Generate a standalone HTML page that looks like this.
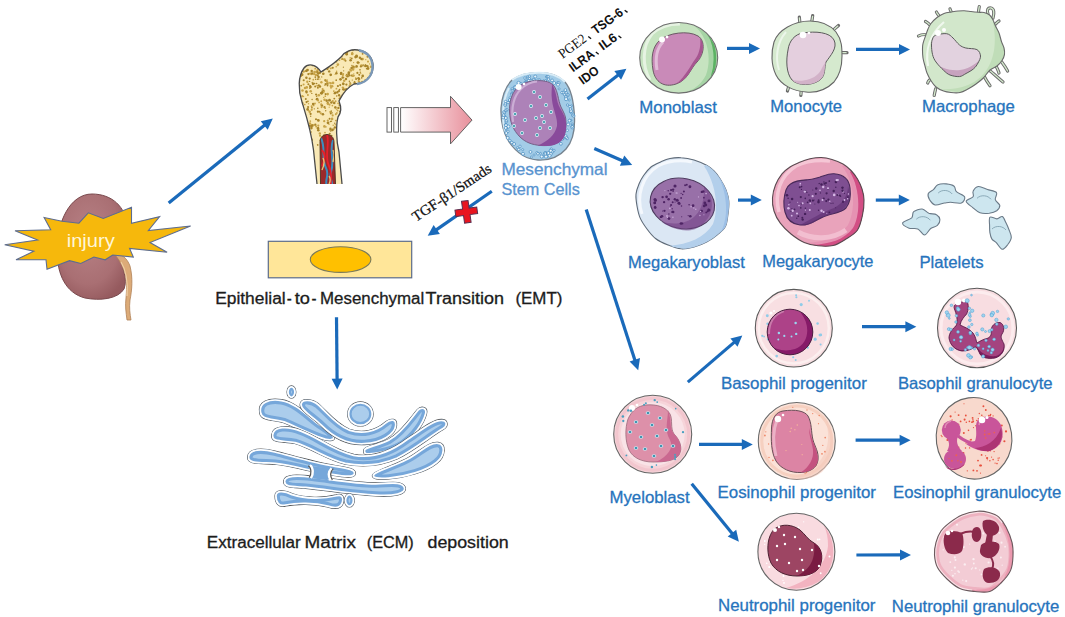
<!DOCTYPE html>
<html><head><meta charset="utf-8"><style>
html,body{margin:0;padding:0;background:#fff;width:1065px;height:617px;overflow:hidden}
svg{display:block;font-family:"Liberation Sans",sans-serif}
</style></head><body>
<svg width="1065" height="617" viewBox="0 0 1065 617">
<rect width="1065" height="617" fill="#fff"/>
<defs>
<radialGradient id="kid" cx="0.45" cy="0.4" r="0.65"><stop offset="0" stop-color="#b88286"/><stop offset="0.7" stop-color="#a96f73"/><stop offset="1" stop-color="#955a5e"/></radialGradient>
<linearGradient id="pinkArr" x1="0" x2="1" y1="0" y2="0"><stop offset="0" stop-color="#ffffff"/><stop offset="1" stop-color="#e8909c"/></linearGradient>
</defs>
<path d="M92,194 C112,194 126,207 127,226 C127,240 121,248 121,258 C122,270 128,278 124,289 C118,299 100,301 85,298 C66,293 57,275 57,250 C57,222 70,194 92,194 Z" fill="url(#kid)" stroke="#7a4a4e" stroke-width="1"/>
<path d="M114,253 C122,254 127,258 130,266 C133,278 132,290 130,300 C129,308 130,314 131,320 L127,320 C126,312 125,306 126,298 C127,286 127,276 123,268 C121,262 117,258 114,253 Z" fill="#dcab78" stroke="#b08055" stroke-width="0.8"/>
<path d="M121,262 C126,270 128,282 127,296" fill="none" stroke="#f0d0a8" stroke-width="1.2"/>
<polygon points="44.1,217.5 50.7,229.7 15,230.7 37.6,240 4.7,244.8 33.8,251.3 16,259.8 46,259.8 47,269.2 69.5,260.7 80.8,263.5 93.9,257 105.2,259.8 112.7,255 133.3,257 129.6,248.5 167.1,252.3 150,242.5 190.6,226 148.4,230.5 159.6,216.6 131.5,223.2 131.5,207.2 103.3,218.5 88.3,212.8 78.9,223.2 62,221.3" fill="#f6b80c" stroke="#5d6d90" stroke-width="1.1" stroke-linejoin="miter"/>
<text x="66.7" y="246.6" font-size="19" fill="#fff6d8" textLength="48" lengthAdjust="spacingAndGlyphs">injury</text>
<defs><clipPath id="boneclip"><path d="M317,184 L313.5,150 C311,130 306,115 302,102 C298,90 298,76 304,68 C308,63 316,64 321,72 C327,68 334,64 341,57 C345,51 352,49 358,50 C368,51 374,59 373,68 C372,78 364,84 354,84 C348,87 343,93 339,101 C341,106 342,112 338,117 C336,125 336,140 339,152 L342,184 Z"/></clipPath></defs>
<path d="M317,184 L313.5,150 C311,130 306,115 302,102 C298,90 298,76 304,68 C308,63 316,64 321,72 C327,68 334,64 341,57 C345,51 352,49 358,50 C368,51 374,59 373,68 C372,78 364,84 354,84 C348,87 343,93 339,101 C341,106 342,112 338,117 C336,125 336,140 339,152 L342,184 Z" fill="#f9e9b6"/>
<g clip-path="url(#boneclip)"><circle cx="315.0" cy="103.5" r="0.90" fill="#c8a448"/><circle cx="346.1" cy="54.7" r="0.61" fill="#c8a448"/><circle cx="316.7" cy="71.9" r="1.40" fill="#a8842a"/><circle cx="362.9" cy="96.6" r="1.11" fill="#a8842a"/><circle cx="346.8" cy="136.5" r="1.19" fill="#c8a448"/><circle cx="301.1" cy="125.3" r="0.84" fill="#a8842a"/><circle cx="365.2" cy="96.2" r="1.18" fill="#c8a448"/><circle cx="360.1" cy="93.4" r="1.35" fill="#c8a448"/><circle cx="303.8" cy="61.9" r="0.77" fill="#c8a448"/><circle cx="330.9" cy="111.9" r="0.84" fill="#a8842a"/><circle cx="326.9" cy="83.8" r="1.07" fill="#c8a448"/><circle cx="368.3" cy="117.6" r="1.34" fill="#c8a448"/><circle cx="375.3" cy="116.5" r="0.73" fill="#c8a448"/><circle cx="353.1" cy="69.5" r="1.27" fill="#c8a448"/><circle cx="318.8" cy="54.5" r="1.28" fill="#c8a448"/><circle cx="303.1" cy="129.7" r="0.72" fill="#a8842a"/><circle cx="345.2" cy="52.6" r="1.17" fill="#a8842a"/><circle cx="375.9" cy="79.6" r="0.66" fill="#c8a448"/><circle cx="298.5" cy="68.1" r="0.93" fill="#c8a448"/><circle cx="308.5" cy="52.3" r="1.29" fill="#a8842a"/><circle cx="332.8" cy="101.0" r="1.12" fill="#c8a448"/><circle cx="340.7" cy="111.3" r="1.35" fill="#a8842a"/><circle cx="330.5" cy="121.5" r="0.79" fill="#a8842a"/><circle cx="374.2" cy="101.2" r="1.04" fill="#a8842a"/><circle cx="329.2" cy="107.2" r="0.62" fill="#c8a448"/><circle cx="346.6" cy="54.1" r="1.10" fill="#a8842a"/><circle cx="350.3" cy="84.0" r="1.17" fill="#c8a448"/><circle cx="297.8" cy="54.2" r="1.14" fill="#c8a448"/><circle cx="316.1" cy="94.5" r="1.07" fill="#a8842a"/><circle cx="325.1" cy="79.9" r="0.90" fill="#c8a448"/><circle cx="320.0" cy="86.5" r="1.22" fill="#a8842a"/><circle cx="341.5" cy="123.0" r="0.85" fill="#a8842a"/><circle cx="360.3" cy="72.3" r="0.75" fill="#a8842a"/><circle cx="351.8" cy="58.4" r="0.86" fill="#a8842a"/><circle cx="362.7" cy="92.7" r="1.28" fill="#a8842a"/><circle cx="322.9" cy="114.3" r="1.31" fill="#a8842a"/><circle cx="314.0" cy="60.3" r="1.02" fill="#a8842a"/><circle cx="318.3" cy="130.3" r="1.25" fill="#a8842a"/><circle cx="306.4" cy="77.8" r="1.24" fill="#a8842a"/><circle cx="323.7" cy="90.5" r="0.94" fill="#a8842a"/><circle cx="369.6" cy="63.9" r="0.60" fill="#c8a448"/><circle cx="355.6" cy="133.3" r="1.02" fill="#a8842a"/><circle cx="323.3" cy="71.2" r="0.65" fill="#c8a448"/><circle cx="368.3" cy="118.8" r="1.34" fill="#c8a448"/><circle cx="368.0" cy="106.8" r="0.61" fill="#c8a448"/><circle cx="309.7" cy="78.6" r="1.13" fill="#a8842a"/><circle cx="323.3" cy="73.8" r="1.29" fill="#a8842a"/><circle cx="358.6" cy="83.9" r="0.76" fill="#a8842a"/><circle cx="361.3" cy="65.5" r="1.23" fill="#c8a448"/><circle cx="317.7" cy="75.4" r="1.02" fill="#a8842a"/><circle cx="300.4" cy="60.9" r="0.70" fill="#a8842a"/><circle cx="336.2" cy="80.2" r="0.85" fill="#a8842a"/><circle cx="347.8" cy="107.8" r="0.89" fill="#a8842a"/><circle cx="322.3" cy="60.6" r="1.04" fill="#c8a448"/><circle cx="326.4" cy="56.1" r="0.74" fill="#a8842a"/><circle cx="344.4" cy="127.8" r="1.24" fill="#c8a448"/><circle cx="330.5" cy="86.0" r="1.00" fill="#c8a448"/><circle cx="329.6" cy="118.8" r="0.97" fill="#a8842a"/><circle cx="338.9" cy="118.9" r="0.66" fill="#a8842a"/><circle cx="330.1" cy="137.7" r="0.90" fill="#c8a448"/><circle cx="359.3" cy="74.7" r="0.97" fill="#a8842a"/><circle cx="361.1" cy="115.6" r="1.31" fill="#c8a448"/><circle cx="349.4" cy="122.8" r="1.05" fill="#a8842a"/><circle cx="343.0" cy="48.5" r="0.71" fill="#c8a448"/><circle cx="299.5" cy="57.4" r="0.68" fill="#c8a448"/><circle cx="310.3" cy="50.4" r="1.27" fill="#a8842a"/><circle cx="363.5" cy="116.7" r="1.27" fill="#c8a448"/><circle cx="357.4" cy="100.2" r="1.17" fill="#a8842a"/><circle cx="321.9" cy="105.5" r="1.26" fill="#a8842a"/><circle cx="310.4" cy="73.5" r="1.09" fill="#c8a448"/><circle cx="327.5" cy="85.5" r="0.92" fill="#a8842a"/><circle cx="329.5" cy="56.5" r="1.00" fill="#c8a448"/><circle cx="329.0" cy="124.2" r="0.73" fill="#c8a448"/><circle cx="356.5" cy="116.7" r="1.01" fill="#a8842a"/><circle cx="303.7" cy="124.3" r="1.33" fill="#a8842a"/><circle cx="331.4" cy="121.3" r="0.75" fill="#a8842a"/><circle cx="311.9" cy="107.7" r="0.85" fill="#a8842a"/><circle cx="352.4" cy="90.1" r="1.28" fill="#c8a448"/><circle cx="317.4" cy="70.2" r="0.62" fill="#a8842a"/><circle cx="326.6" cy="65.6" r="0.89" fill="#a8842a"/><circle cx="357.9" cy="62.6" r="1.39" fill="#a8842a"/><circle cx="343.9" cy="95.7" r="1.27" fill="#c8a448"/><circle cx="340.6" cy="97.1" r="1.18" fill="#c8a448"/><circle cx="328.0" cy="122.8" r="1.37" fill="#a8842a"/><circle cx="314.4" cy="71.9" r="1.17" fill="#c8a448"/><circle cx="311.2" cy="74.4" r="0.75" fill="#c8a448"/><circle cx="365.2" cy="80.0" r="0.94" fill="#c8a448"/><circle cx="302.9" cy="57.4" r="1.27" fill="#a8842a"/><circle cx="324.5" cy="107.2" r="1.14" fill="#a8842a"/><circle cx="322.8" cy="92.5" r="0.99" fill="#a8842a"/><circle cx="339.5" cy="60.2" r="0.82" fill="#c8a448"/><circle cx="305.0" cy="138.5" r="0.68" fill="#c8a448"/><circle cx="325.9" cy="126.8" r="0.84" fill="#c8a448"/><circle cx="348.3" cy="130.2" r="1.20" fill="#c8a448"/><circle cx="349.8" cy="102.7" r="0.69" fill="#a8842a"/><circle cx="324.2" cy="121.2" r="1.14" fill="#c8a448"/><circle cx="310.6" cy="113.9" r="1.10" fill="#a8842a"/><circle cx="367.2" cy="114.8" r="0.70" fill="#c8a448"/><circle cx="307.3" cy="81.8" r="1.18" fill="#c8a448"/><circle cx="340.4" cy="114.0" r="0.97" fill="#a8842a"/><circle cx="310.1" cy="55.0" r="1.17" fill="#c8a448"/><circle cx="339.5" cy="123.4" r="0.89" fill="#a8842a"/><circle cx="336.4" cy="73.2" r="1.22" fill="#a8842a"/><circle cx="322.6" cy="89.1" r="1.03" fill="#c8a448"/><circle cx="317.6" cy="58.2" r="0.69" fill="#c8a448"/><circle cx="354.2" cy="66.9" r="0.75" fill="#a8842a"/><circle cx="355.5" cy="131.2" r="1.07" fill="#a8842a"/><circle cx="327.9" cy="67.8" r="1.02" fill="#c8a448"/><circle cx="312.2" cy="73.5" r="1.23" fill="#a8842a"/><circle cx="360.3" cy="138.9" r="0.91" fill="#c8a448"/><circle cx="342.6" cy="112.6" r="1.38" fill="#c8a448"/><circle cx="320.0" cy="135.7" r="1.08" fill="#c8a448"/><circle cx="296.2" cy="126.6" r="0.99" fill="#a8842a"/><circle cx="332.8" cy="67.7" r="1.02" fill="#a8842a"/><circle cx="336.0" cy="113.9" r="0.96" fill="#c8a448"/><circle cx="359.4" cy="111.6" r="0.64" fill="#a8842a"/><circle cx="314.7" cy="55.9" r="1.03" fill="#c8a448"/><circle cx="321.8" cy="136.8" r="0.71" fill="#c8a448"/><circle cx="344.1" cy="142.6" r="1.19" fill="#a8842a"/><circle cx="360.5" cy="143.0" r="0.95" fill="#c8a448"/><circle cx="334.8" cy="59.1" r="0.63" fill="#a8842a"/><circle cx="312.0" cy="64.4" r="1.00" fill="#c8a448"/><circle cx="339.0" cy="91.1" r="1.12" fill="#a8842a"/><circle cx="333.2" cy="125.2" r="0.74" fill="#c8a448"/><circle cx="353.6" cy="85.4" r="0.90" fill="#a8842a"/><circle cx="343.7" cy="70.8" r="0.60" fill="#a8842a"/><circle cx="358.7" cy="62.6" r="0.97" fill="#a8842a"/><circle cx="312.7" cy="65.4" r="0.92" fill="#a8842a"/><circle cx="298.2" cy="59.2" r="0.73" fill="#a8842a"/><circle cx="300.8" cy="50.3" r="0.96" fill="#a8842a"/><circle cx="352.3" cy="53.2" r="0.92" fill="#a8842a"/><circle cx="303.5" cy="96.4" r="0.73" fill="#c8a448"/><circle cx="323.7" cy="60.6" r="0.64" fill="#c8a448"/><circle cx="318.0" cy="128.4" r="1.35" fill="#a8842a"/><circle cx="316.0" cy="75.1" r="1.25" fill="#c8a448"/><circle cx="323.6" cy="57.6" r="1.15" fill="#c8a448"/><circle cx="343.4" cy="48.4" r="0.62" fill="#a8842a"/><circle cx="309.6" cy="51.7" r="0.64" fill="#c8a448"/><circle cx="368.0" cy="68.5" r="1.38" fill="#a8842a"/><circle cx="360.3" cy="141.6" r="0.63" fill="#a8842a"/><circle cx="327.2" cy="82.1" r="1.14" fill="#c8a448"/><circle cx="310.0" cy="123.5" r="1.19" fill="#c8a448"/><circle cx="329.2" cy="71.4" r="1.22" fill="#a8842a"/><circle cx="317.6" cy="65.3" r="1.18" fill="#c8a448"/><circle cx="352.9" cy="87.5" r="0.99" fill="#a8842a"/><circle cx="352.9" cy="50.3" r="0.97" fill="#c8a448"/><circle cx="350.2" cy="57.9" r="0.79" fill="#c8a448"/><circle cx="347.4" cy="137.6" r="0.96" fill="#c8a448"/><circle cx="354.6" cy="82.0" r="0.90" fill="#a8842a"/><circle cx="341.5" cy="59.2" r="0.66" fill="#c8a448"/><circle cx="315.3" cy="53.0" r="0.72" fill="#c8a448"/><circle cx="342.8" cy="49.2" r="0.78" fill="#c8a448"/><circle cx="313.6" cy="105.4" r="0.94" fill="#c8a448"/><circle cx="344.3" cy="128.4" r="0.75" fill="#a8842a"/><circle cx="367.5" cy="56.7" r="0.97" fill="#a8842a"/><circle cx="362.4" cy="110.8" r="1.11" fill="#c8a448"/><circle cx="365.7" cy="83.3" r="1.08" fill="#a8842a"/><circle cx="304.9" cy="133.2" r="1.25" fill="#a8842a"/><circle cx="339.1" cy="95.3" r="1.18" fill="#a8842a"/><circle cx="323.7" cy="97.4" r="0.66" fill="#c8a448"/><circle cx="354.8" cy="91.1" r="1.12" fill="#c8a448"/><circle cx="313.1" cy="83.8" r="1.40" fill="#a8842a"/><circle cx="330.5" cy="56.6" r="0.77" fill="#a8842a"/><circle cx="370.5" cy="122.1" r="1.30" fill="#c8a448"/><circle cx="329.5" cy="144.7" r="1.36" fill="#a8842a"/><circle cx="357.9" cy="89.5" r="1.40" fill="#c8a448"/><circle cx="303.7" cy="121.7" r="0.84" fill="#a8842a"/><circle cx="347.1" cy="52.1" r="1.20" fill="#a8842a"/><circle cx="330.6" cy="83.2" r="1.19" fill="#c8a448"/><circle cx="319.0" cy="58.5" r="0.84" fill="#a8842a"/><circle cx="302.2" cy="63.6" r="1.21" fill="#c8a448"/><circle cx="325.8" cy="64.5" r="0.85" fill="#a8842a"/><circle cx="338.1" cy="103.3" r="0.89" fill="#c8a448"/><circle cx="318.8" cy="95.2" r="1.31" fill="#c8a448"/><circle cx="319.8" cy="72.7" r="1.25" fill="#a8842a"/><circle cx="306.5" cy="102.1" r="1.03" fill="#a8842a"/><circle cx="300.0" cy="68.8" r="1.22" fill="#a8842a"/><circle cx="374.3" cy="128.1" r="0.63" fill="#a8842a"/><circle cx="297.1" cy="92.1" r="0.87" fill="#a8842a"/><circle cx="339.7" cy="57.6" r="0.85" fill="#a8842a"/><circle cx="360.2" cy="90.7" r="0.81" fill="#a8842a"/><circle cx="330.4" cy="112.0" r="1.14" fill="#c8a448"/><circle cx="360.7" cy="73.2" r="0.71" fill="#c8a448"/><circle cx="359.2" cy="99.9" r="1.26" fill="#c8a448"/><circle cx="318.4" cy="65.2" r="0.61" fill="#c8a448"/><circle cx="349.2" cy="142.7" r="1.08" fill="#a8842a"/><circle cx="337.5" cy="65.4" r="0.75" fill="#c8a448"/><circle cx="375.4" cy="103.8" r="0.93" fill="#a8842a"/><circle cx="332.4" cy="129.9" r="1.37" fill="#a8842a"/><circle cx="321.2" cy="101.2" r="0.93" fill="#c8a448"/><circle cx="298.4" cy="106.6" r="1.04" fill="#a8842a"/><circle cx="318.4" cy="120.4" r="1.33" fill="#a8842a"/><circle cx="349.5" cy="85.9" r="1.01" fill="#c8a448"/><circle cx="372.8" cy="113.6" r="0.76" fill="#c8a448"/><circle cx="310.5" cy="87.1" r="1.26" fill="#a8842a"/><circle cx="317.7" cy="144.9" r="0.85" fill="#a8842a"/><circle cx="318.6" cy="61.4" r="0.80" fill="#c8a448"/><circle cx="302.3" cy="71.4" r="0.76" fill="#a8842a"/><circle cx="338.1" cy="123.8" r="1.27" fill="#c8a448"/><circle cx="361.4" cy="48.5" r="0.83" fill="#c8a448"/><circle cx="301.6" cy="75.3" r="0.99" fill="#a8842a"/><circle cx="339.7" cy="52.8" r="0.79" fill="#c8a448"/><circle cx="375.4" cy="116.8" r="1.12" fill="#a8842a"/><circle cx="300.4" cy="125.5" r="0.75" fill="#c8a448"/><circle cx="366.0" cy="53.0" r="1.37" fill="#a8842a"/><circle cx="326.6" cy="58.9" r="0.91" fill="#c8a448"/><circle cx="318.5" cy="61.4" r="0.72" fill="#a8842a"/><circle cx="311.4" cy="143.8" r="1.38" fill="#a8842a"/><circle cx="352.3" cy="80.0" r="0.62" fill="#a8842a"/><circle cx="355.9" cy="127.8" r="0.97" fill="#a8842a"/><circle cx="331.4" cy="102.5" r="1.27" fill="#a8842a"/><circle cx="343.5" cy="143.1" r="0.74" fill="#c8a448"/><circle cx="363.2" cy="65.1" r="0.81" fill="#a8842a"/><circle cx="365.8" cy="59.7" r="0.61" fill="#c8a448"/><circle cx="338.0" cy="126.1" r="1.03" fill="#a8842a"/><circle cx="307.7" cy="109.2" r="0.86" fill="#a8842a"/><circle cx="325.9" cy="80.4" r="0.89" fill="#c8a448"/><circle cx="374.4" cy="143.5" r="1.27" fill="#a8842a"/><circle cx="374.1" cy="75.5" r="0.70" fill="#a8842a"/><circle cx="354.6" cy="82.8" r="1.12" fill="#a8842a"/><circle cx="373.4" cy="94.2" r="0.98" fill="#a8842a"/><circle cx="331.3" cy="111.0" r="0.66" fill="#a8842a"/><circle cx="364.4" cy="87.2" r="1.39" fill="#a8842a"/><circle cx="313.2" cy="104.0" r="1.31" fill="#a8842a"/><circle cx="365.4" cy="120.6" r="0.89" fill="#a8842a"/><circle cx="336.4" cy="88.7" r="0.90" fill="#c8a448"/><circle cx="366.0" cy="107.6" r="0.72" fill="#a8842a"/><circle cx="325.7" cy="110.7" r="0.71" fill="#a8842a"/><circle cx="321.7" cy="76.9" r="0.62" fill="#a8842a"/><circle cx="369.7" cy="102.5" r="1.19" fill="#c8a448"/><circle cx="350.6" cy="60.3" r="1.30" fill="#a8842a"/><circle cx="311.2" cy="132.0" r="0.67" fill="#a8842a"/><circle cx="324.1" cy="48.8" r="1.27" fill="#a8842a"/><circle cx="317.9" cy="87.7" r="1.01" fill="#a8842a"/><circle cx="346.3" cy="115.3" r="0.95" fill="#a8842a"/><circle cx="374.3" cy="118.5" r="0.67" fill="#a8842a"/><circle cx="296.8" cy="97.0" r="0.94" fill="#c8a448"/><circle cx="362.1" cy="81.8" r="0.94" fill="#c8a448"/><circle cx="366.7" cy="68.6" r="0.91" fill="#a8842a"/><circle cx="347.3" cy="50.7" r="1.35" fill="#a8842a"/><circle cx="341.9" cy="56.7" r="0.79" fill="#a8842a"/><circle cx="364.6" cy="103.0" r="0.83" fill="#c8a448"/><circle cx="348.9" cy="101.9" r="0.76" fill="#a8842a"/><circle cx="368.0" cy="61.6" r="1.03" fill="#c8a448"/><circle cx="324.4" cy="126.4" r="1.29" fill="#c8a448"/><circle cx="312.3" cy="54.1" r="0.95" fill="#a8842a"/><circle cx="369.1" cy="88.5" r="0.77" fill="#a8842a"/><circle cx="299.0" cy="98.9" r="0.91" fill="#c8a448"/><circle cx="362.6" cy="53.8" r="0.92" fill="#a8842a"/><circle cx="310.2" cy="73.6" r="0.81" fill="#c8a448"/><circle cx="323.2" cy="59.3" r="0.78" fill="#a8842a"/><circle cx="341.2" cy="73.0" r="1.16" fill="#a8842a"/><circle cx="349.7" cy="110.2" r="0.74" fill="#c8a448"/><circle cx="327.5" cy="103.0" r="1.08" fill="#c8a448"/><circle cx="331.4" cy="53.7" r="1.23" fill="#c8a448"/><circle cx="335.2" cy="107.1" r="0.81" fill="#c8a448"/><circle cx="350.9" cy="70.6" r="1.25" fill="#c8a448"/><circle cx="310.3" cy="121.1" r="0.87" fill="#c8a448"/><circle cx="342.7" cy="59.0" r="1.02" fill="#c8a448"/><circle cx="334.2" cy="103.0" r="1.29" fill="#a8842a"/><circle cx="335.4" cy="107.4" r="1.26" fill="#a8842a"/><circle cx="303.5" cy="125.6" r="0.84" fill="#c8a448"/><circle cx="366.8" cy="103.2" r="1.39" fill="#c8a448"/><circle cx="355.8" cy="77.7" r="0.61" fill="#c8a448"/><circle cx="354.8" cy="83.8" r="0.98" fill="#c8a448"/><circle cx="316.0" cy="119.2" r="1.05" fill="#a8842a"/><circle cx="304.8" cy="104.5" r="0.86" fill="#c8a448"/><circle cx="309.8" cy="88.2" r="0.76" fill="#a8842a"/><circle cx="342.1" cy="58.9" r="0.64" fill="#a8842a"/><circle cx="312.1" cy="99.5" r="0.73" fill="#a8842a"/><circle cx="339.0" cy="142.2" r="1.01" fill="#a8842a"/><circle cx="301.3" cy="76.2" r="0.85" fill="#c8a448"/><circle cx="330.7" cy="74.8" r="1.37" fill="#a8842a"/><circle cx="341.7" cy="100.1" r="0.76" fill="#a8842a"/><circle cx="374.8" cy="128.7" r="1.32" fill="#a8842a"/><circle cx="352.3" cy="124.6" r="0.78" fill="#a8842a"/><circle cx="374.0" cy="81.3" r="1.21" fill="#a8842a"/><circle cx="349.4" cy="75.5" r="1.01" fill="#a8842a"/><circle cx="365.6" cy="124.0" r="1.00" fill="#c8a448"/><circle cx="330.2" cy="130.0" r="1.04" fill="#c8a448"/><circle cx="327.0" cy="52.8" r="0.74" fill="#c8a448"/><circle cx="312.9" cy="125.3" r="1.36" fill="#c8a448"/><circle cx="354.2" cy="86.0" r="0.63" fill="#c8a448"/><circle cx="334.8" cy="123.3" r="0.72" fill="#a8842a"/><circle cx="349.5" cy="109.6" r="0.73" fill="#a8842a"/><circle cx="296.6" cy="56.4" r="1.23" fill="#a8842a"/><circle cx="317.1" cy="119.5" r="0.60" fill="#a8842a"/><circle cx="351.9" cy="65.4" r="0.63" fill="#a8842a"/><circle cx="360.2" cy="87.6" r="1.24" fill="#a8842a"/><circle cx="349.4" cy="81.3" r="0.78" fill="#a8842a"/><circle cx="360.0" cy="83.2" r="0.78" fill="#a8842a"/><circle cx="303.7" cy="80.2" r="1.06" fill="#a8842a"/><circle cx="343.8" cy="77.6" r="0.62" fill="#a8842a"/><circle cx="323.1" cy="68.0" r="1.06" fill="#a8842a"/><circle cx="357.0" cy="109.3" r="1.13" fill="#c8a448"/><circle cx="337.7" cy="91.5" r="0.85" fill="#a8842a"/><circle cx="359.6" cy="99.0" r="0.68" fill="#c8a448"/><circle cx="342.6" cy="111.6" r="0.95" fill="#a8842a"/><circle cx="376.0" cy="65.2" r="0.89" fill="#c8a448"/><circle cx="305.8" cy="98.9" r="0.98" fill="#a8842a"/><circle cx="370.0" cy="90.2" r="0.61" fill="#a8842a"/><circle cx="296.4" cy="120.3" r="1.30" fill="#c8a448"/><circle cx="299.8" cy="116.9" r="0.84" fill="#a8842a"/><circle cx="320.0" cy="79.1" r="0.71" fill="#c8a448"/><circle cx="373.1" cy="67.5" r="0.67" fill="#c8a448"/><circle cx="338.5" cy="126.4" r="1.10" fill="#a8842a"/><circle cx="349.9" cy="100.3" r="1.37" fill="#a8842a"/><circle cx="301.5" cy="117.0" r="1.34" fill="#a8842a"/><circle cx="352.9" cy="105.2" r="0.91" fill="#a8842a"/><circle cx="344.1" cy="50.9" r="0.84" fill="#c8a448"/><circle cx="316.6" cy="96.3" r="0.81" fill="#a8842a"/><circle cx="348.0" cy="123.9" r="1.37" fill="#a8842a"/><circle cx="312.2" cy="82.4" r="0.65" fill="#a8842a"/><circle cx="342.8" cy="110.3" r="0.79" fill="#a8842a"/><circle cx="303.8" cy="66.2" r="1.00" fill="#a8842a"/><circle cx="366.7" cy="105.6" r="0.87" fill="#a8842a"/><circle cx="299.2" cy="122.8" r="1.20" fill="#a8842a"/><circle cx="354.0" cy="75.8" r="0.78" fill="#a8842a"/><circle cx="311.7" cy="109.8" r="1.11" fill="#c8a448"/><circle cx="304.3" cy="126.2" r="0.90" fill="#a8842a"/><circle cx="330.6" cy="68.4" r="0.92" fill="#c8a448"/><circle cx="367.3" cy="129.6" r="1.38" fill="#a8842a"/><circle cx="307.6" cy="70.0" r="1.26" fill="#a8842a"/><circle cx="321.3" cy="93.2" r="1.34" fill="#a8842a"/><circle cx="368.1" cy="82.0" r="0.84" fill="#a8842a"/><circle cx="339.4" cy="105.1" r="0.92" fill="#a8842a"/><circle cx="319.8" cy="133.4" r="1.20" fill="#c8a448"/><circle cx="301.7" cy="73.5" r="0.76" fill="#a8842a"/><circle cx="373.5" cy="140.3" r="1.05" fill="#a8842a"/><circle cx="330.2" cy="53.7" r="1.32" fill="#a8842a"/><circle cx="369.8" cy="79.7" r="1.13" fill="#a8842a"/><circle cx="367.9" cy="88.7" r="0.88" fill="#c8a448"/><circle cx="343.5" cy="73.6" r="0.70" fill="#c8a448"/><circle cx="309.6" cy="81.4" r="0.69" fill="#a8842a"/><circle cx="339.5" cy="89.5" r="0.87" fill="#a8842a"/><circle cx="334.9" cy="127.4" r="1.21" fill="#a8842a"/><circle cx="305.6" cy="65.4" r="1.28" fill="#a8842a"/><circle cx="326.6" cy="100.6" r="1.28" fill="#a8842a"/><circle cx="324.9" cy="85.3" r="0.61" fill="#a8842a"/><circle cx="334.3" cy="98.6" r="0.96" fill="#a8842a"/><circle cx="353.2" cy="67.0" r="1.39" fill="#a8842a"/><circle cx="365.3" cy="65.9" r="1.24" fill="#a8842a"/><circle cx="302.3" cy="103.1" r="1.27" fill="#c8a448"/><circle cx="326.3" cy="58.9" r="1.20" fill="#a8842a"/><circle cx="355.5" cy="129.2" r="1.14" fill="#c8a448"/><circle cx="339.9" cy="56.2" r="1.31" fill="#a8842a"/><circle cx="349.0" cy="50.9" r="0.77" fill="#c8a448"/><circle cx="299.0" cy="100.1" r="1.35" fill="#a8842a"/><circle cx="352.4" cy="123.9" r="1.10" fill="#c8a448"/><circle cx="351.9" cy="49.5" r="0.75" fill="#a8842a"/><circle cx="373.6" cy="70.1" r="1.07" fill="#a8842a"/><circle cx="363.7" cy="93.4" r="1.02" fill="#c8a448"/><circle cx="306.9" cy="122.3" r="1.24" fill="#c8a448"/><circle cx="318.5" cy="71.9" r="0.73" fill="#c8a448"/><circle cx="331.0" cy="87.8" r="1.02" fill="#c8a448"/><circle cx="321.4" cy="82.3" r="1.21" fill="#c8a448"/><circle cx="319.7" cy="55.5" r="1.34" fill="#c8a448"/><circle cx="343.5" cy="89.3" r="1.37" fill="#a8842a"/><circle cx="313.3" cy="58.2" r="0.88" fill="#c8a448"/><circle cx="332.7" cy="115.4" r="1.08" fill="#c8a448"/><circle cx="335.6" cy="101.3" r="0.99" fill="#c8a448"/><circle cx="311.4" cy="128.1" r="1.28" fill="#a8842a"/><circle cx="334.8" cy="93.2" r="1.17" fill="#a8842a"/><circle cx="317.0" cy="61.6" r="1.05" fill="#c8a448"/><circle cx="296.0" cy="66.1" r="0.76" fill="#c8a448"/><circle cx="332.4" cy="105.7" r="0.83" fill="#c8a448"/><circle cx="361.0" cy="116.5" r="0.60" fill="#a8842a"/><circle cx="335.1" cy="52.5" r="1.23" fill="#a8842a"/><circle cx="319.5" cy="111.8" r="1.07" fill="#a8842a"/><circle cx="364.7" cy="100.9" r="0.87" fill="#a8842a"/><circle cx="340.2" cy="85.1" r="1.03" fill="#a8842a"/><circle cx="296.6" cy="51.9" r="0.73" fill="#a8842a"/><circle cx="364.1" cy="107.2" r="0.79" fill="#c8a448"/><circle cx="346.8" cy="54.3" r="1.20" fill="#a8842a"/><circle cx="375.8" cy="62.5" r="0.83" fill="#a8842a"/><circle cx="365.0" cy="131.5" r="0.72" fill="#a8842a"/><circle cx="352.2" cy="53.9" r="1.34" fill="#c8a448"/><circle cx="370.5" cy="119.3" r="1.09" fill="#c8a448"/><circle cx="317.4" cy="79.2" r="0.70" fill="#a8842a"/><circle cx="359.9" cy="57.7" r="1.20" fill="#a8842a"/><circle cx="366.2" cy="125.5" r="1.28" fill="#a8842a"/><circle cx="317.2" cy="85.6" r="0.94" fill="#c8a448"/><circle cx="366.3" cy="123.5" r="1.34" fill="#c8a448"/><circle cx="324.5" cy="99.8" r="1.20" fill="#c8a448"/><circle cx="325.6" cy="84.2" r="1.09" fill="#a8842a"/><circle cx="366.6" cy="48.0" r="1.12" fill="#a8842a"/><circle cx="311.6" cy="106.2" r="0.98" fill="#c8a448"/><circle cx="366.8" cy="107.8" r="1.30" fill="#c8a448"/><circle cx="309.2" cy="132.4" r="1.39" fill="#c8a448"/><circle cx="327.4" cy="69.1" r="1.12" fill="#a8842a"/><circle cx="356.6" cy="106.6" r="1.26" fill="#a8842a"/><circle cx="320.2" cy="140.3" r="0.90" fill="#c8a448"/><circle cx="330.8" cy="113.6" r="1.01" fill="#a8842a"/><circle cx="374.4" cy="138.3" r="0.82" fill="#a8842a"/><circle cx="354.5" cy="131.9" r="0.77" fill="#c8a448"/><circle cx="337.9" cy="86.1" r="1.07" fill="#a8842a"/><circle cx="347.9" cy="124.7" r="1.39" fill="#a8842a"/><circle cx="359.4" cy="111.6" r="1.07" fill="#a8842a"/><circle cx="345.5" cy="60.8" r="1.02" fill="#a8842a"/><circle cx="370.5" cy="130.1" r="1.20" fill="#a8842a"/><circle cx="337.9" cy="64.5" r="1.29" fill="#c8a448"/><circle cx="356.8" cy="56.5" r="1.26" fill="#a8842a"/><circle cx="341.2" cy="97.8" r="0.65" fill="#a8842a"/><circle cx="367.0" cy="111.7" r="0.85" fill="#c8a448"/><circle cx="316.2" cy="126.6" r="1.04" fill="#c8a448"/><circle cx="343.2" cy="83.5" r="1.21" fill="#c8a448"/><circle cx="342.3" cy="111.9" r="0.86" fill="#a8842a"/><circle cx="311.7" cy="71.0" r="1.23" fill="#a8842a"/><circle cx="309.5" cy="126.1" r="1.38" fill="#a8842a"/><circle cx="358.9" cy="90.3" r="0.78" fill="#a8842a"/><circle cx="352.3" cy="105.2" r="0.84" fill="#c8a448"/><circle cx="311.8" cy="93.4" r="0.67" fill="#a8842a"/><circle cx="366.8" cy="99.0" r="0.72" fill="#a8842a"/><circle cx="347.5" cy="76.3" r="1.31" fill="#a8842a"/><circle cx="365.5" cy="111.4" r="1.26" fill="#a8842a"/><circle cx="301.5" cy="65.6" r="1.10" fill="#a8842a"/><circle cx="304.8" cy="127.8" r="1.28" fill="#c8a448"/><circle cx="340.4" cy="137.3" r="1.05" fill="#a8842a"/><circle cx="297.9" cy="57.1" r="0.80" fill="#a8842a"/><circle cx="306.0" cy="129.6" r="1.24" fill="#a8842a"/><circle cx="344.2" cy="59.6" r="0.79" fill="#a8842a"/><circle cx="355.6" cy="57.1" r="1.34" fill="#a8842a"/><circle cx="373.6" cy="72.2" r="1.26" fill="#c8a448"/><circle cx="372.4" cy="96.0" r="1.16" fill="#a8842a"/><circle cx="362.6" cy="59.1" r="1.31" fill="#c8a448"/><circle cx="301.5" cy="74.4" r="0.62" fill="#a8842a"/><circle cx="364.3" cy="131.9" r="0.91" fill="#a8842a"/><circle cx="308.5" cy="103.8" r="0.76" fill="#c8a448"/><circle cx="321.6" cy="107.1" r="1.04" fill="#c8a448"/><circle cx="308.4" cy="74.1" r="1.15" fill="#a8842a"/><circle cx="372.9" cy="110.7" r="1.36" fill="#a8842a"/><circle cx="356.2" cy="117.6" r="0.76" fill="#a8842a"/><circle cx="342.5" cy="95.3" r="1.13" fill="#c8a448"/><circle cx="352.3" cy="112.0" r="1.35" fill="#a8842a"/><circle cx="352.5" cy="108.4" r="0.92" fill="#a8842a"/><circle cx="359.2" cy="79.0" r="1.17" fill="#c8a448"/><circle cx="373.4" cy="110.2" r="0.81" fill="#a8842a"/><circle cx="303.7" cy="71.6" r="1.27" fill="#c8a448"/><circle cx="365.3" cy="64.6" r="0.69" fill="#a8842a"/><circle cx="335.7" cy="120.5" r="0.84" fill="#c8a448"/><circle cx="342.7" cy="77.4" r="1.23" fill="#a8842a"/><circle cx="343.4" cy="67.2" r="0.63" fill="#a8842a"/><circle cx="337.6" cy="110.5" r="0.90" fill="#c8a448"/><circle cx="358.7" cy="63.7" r="0.60" fill="#c8a448"/><circle cx="328.9" cy="58.7" r="0.74" fill="#c8a448"/><circle cx="310.1" cy="86.1" r="1.14" fill="#a8842a"/><circle cx="348.3" cy="144.7" r="1.10" fill="#c8a448"/><circle cx="320.8" cy="113.3" r="1.12" fill="#c8a448"/><circle cx="335.3" cy="124.7" r="0.76" fill="#c8a448"/><circle cx="374.3" cy="51.7" r="0.80" fill="#c8a448"/><circle cx="302.6" cy="131.4" r="0.66" fill="#c8a448"/><circle cx="328.2" cy="63.6" r="1.21" fill="#a8842a"/><circle cx="301.9" cy="59.8" r="1.29" fill="#a8842a"/><circle cx="321.8" cy="93.5" r="1.04" fill="#a8842a"/><circle cx="371.8" cy="82.7" r="0.98" fill="#c8a448"/><circle cx="315.5" cy="65.7" r="1.27" fill="#a8842a"/><circle cx="367.4" cy="131.9" r="0.87" fill="#a8842a"/><circle cx="365.9" cy="93.1" r="0.87" fill="#a8842a"/><circle cx="340.4" cy="111.7" r="1.02" fill="#a8842a"/><circle cx="327.8" cy="67.5" r="1.26" fill="#c8a448"/><circle cx="341.1" cy="73.7" r="1.33" fill="#a8842a"/><circle cx="309.7" cy="111.8" r="1.27" fill="#c8a448"/><circle cx="356.5" cy="55.7" r="1.28" fill="#a8842a"/><circle cx="296.9" cy="128.5" r="0.64" fill="#a8842a"/><circle cx="368.1" cy="81.9" r="0.84" fill="#c8a448"/><circle cx="364.7" cy="120.1" r="0.76" fill="#c8a448"/><circle cx="342.3" cy="97.2" r="1.05" fill="#a8842a"/><circle cx="350.1" cy="82.6" r="0.72" fill="#a8842a"/><circle cx="362.7" cy="75.9" r="1.33" fill="#a8842a"/><circle cx="367.8" cy="66.3" r="0.95" fill="#a8842a"/><circle cx="307.9" cy="101.3" r="0.89" fill="#a8842a"/><circle cx="313.3" cy="79.7" r="0.86" fill="#c8a448"/><circle cx="302.5" cy="90.5" r="1.28" fill="#c8a448"/><circle cx="307.0" cy="49.7" r="0.95" fill="#c8a448"/><circle cx="318.6" cy="77.1" r="1.24" fill="#a8842a"/><circle cx="297.4" cy="115.7" r="0.67" fill="#a8842a"/><circle cx="307.6" cy="109.4" r="1.28" fill="#a8842a"/><circle cx="317.9" cy="111.6" r="1.16" fill="#a8842a"/><circle cx="315.2" cy="86.4" r="1.00" fill="#a8842a"/><circle cx="348.7" cy="74.1" r="1.32" fill="#a8842a"/><circle cx="313.7" cy="56.0" r="0.70" fill="#a8842a"/><circle cx="366.6" cy="90.5" r="0.95" fill="#c8a448"/><circle cx="373.3" cy="126.1" r="0.86" fill="#a8842a"/><circle cx="316.6" cy="83.4" r="0.77" fill="#a8842a"/><circle cx="356.0" cy="109.5" r="0.96" fill="#a8842a"/><circle cx="345.1" cy="117.8" r="0.62" fill="#c8a448"/><circle cx="333.0" cy="82.9" r="1.37" fill="#c8a448"/><circle cx="324.0" cy="50.5" r="0.95" fill="#a8842a"/><circle cx="326.0" cy="58.0" r="1.06" fill="#a8842a"/><circle cx="357.0" cy="101.9" r="0.83" fill="#c8a448"/><circle cx="331.8" cy="56.6" r="0.82" fill="#a8842a"/><circle cx="330.4" cy="140.7" r="1.12" fill="#a8842a"/><circle cx="315.2" cy="68.7" r="0.90" fill="#c8a448"/><circle cx="297.8" cy="97.9" r="0.94" fill="#c8a448"/><circle cx="362.1" cy="88.5" r="1.08" fill="#a8842a"/><circle cx="332.3" cy="112.8" r="0.64" fill="#a8842a"/><circle cx="336.2" cy="66.7" r="0.80" fill="#c8a448"/><circle cx="323.9" cy="67.6" r="0.83" fill="#a8842a"/><circle cx="327.9" cy="83.8" r="0.86" fill="#a8842a"/><circle cx="336.4" cy="109.2" r="0.67" fill="#c8a448"/><circle cx="320.6" cy="147.8" r="0.70" fill="#c8a448"/><circle cx="323.6" cy="59.3" r="1.30" fill="#c8a448"/><circle cx="358.9" cy="112.9" r="1.38" fill="#c8a448"/><circle cx="350.1" cy="114.6" r="1.29" fill="#c8a448"/><circle cx="320.3" cy="69.2" r="1.04" fill="#c8a448"/><circle cx="324.3" cy="135.8" r="1.15" fill="#a8842a"/><circle cx="351.6" cy="67.9" r="1.25" fill="#a8842a"/><circle cx="368.3" cy="111.8" r="0.82" fill="#a8842a"/><circle cx="344.0" cy="95.3" r="1.16" fill="#a8842a"/><circle cx="366.0" cy="91.8" r="0.95" fill="#c8a448"/><circle cx="344.5" cy="93.4" r="0.83" fill="#a8842a"/><circle cx="298.5" cy="74.1" r="1.26" fill="#a8842a"/><circle cx="338.4" cy="107.9" r="1.17" fill="#a8842a"/><circle cx="357.6" cy="48.1" r="1.28" fill="#a8842a"/><circle cx="346.0" cy="79.0" r="1.20" fill="#a8842a"/><circle cx="344.2" cy="80.7" r="1.27" fill="#c8a448"/><circle cx="312.1" cy="125.1" r="0.79" fill="#a8842a"/><circle cx="358.5" cy="78.3" r="1.23" fill="#a8842a"/><circle cx="333.8" cy="60.7" r="1.12" fill="#c8a448"/><circle cx="319.2" cy="52.6" r="0.67" fill="#a8842a"/><circle cx="375.7" cy="123.9" r="1.32" fill="#c8a448"/><circle cx="306.7" cy="87.4" r="1.36" fill="#c8a448"/><circle cx="375.3" cy="131.6" r="1.21" fill="#c8a448"/><circle cx="330.3" cy="51.4" r="0.85" fill="#a8842a"/><circle cx="317.8" cy="108.2" r="0.82" fill="#a8842a"/><circle cx="303.6" cy="84.5" r="1.01" fill="#c8a448"/><circle cx="371.4" cy="55.2" r="0.80" fill="#a8842a"/><circle cx="370.4" cy="112.5" r="1.13" fill="#c8a448"/><circle cx="346.3" cy="89.2" r="1.20" fill="#a8842a"/><circle cx="318.2" cy="73.5" r="1.18" fill="#a8842a"/><circle cx="308.4" cy="84.2" r="1.05" fill="#a8842a"/><circle cx="343.4" cy="134.0" r="1.24" fill="#a8842a"/><circle cx="297.8" cy="56.8" r="1.21" fill="#c8a448"/><circle cx="354.0" cy="99.8" r="1.03" fill="#a8842a"/><circle cx="344.8" cy="134.8" r="0.88" fill="#a8842a"/><circle cx="354.6" cy="142.6" r="0.92" fill="#c8a448"/><circle cx="360.9" cy="86.3" r="1.20" fill="#a8842a"/><circle cx="312.0" cy="48.0" r="1.18" fill="#c8a448"/><circle cx="299.4" cy="54.3" r="0.85" fill="#a8842a"/><circle cx="354.5" cy="67.4" r="1.07" fill="#c8a448"/><circle cx="323.9" cy="135.2" r="1.01" fill="#c8a448"/><circle cx="328.4" cy="67.0" r="1.36" fill="#c8a448"/><circle cx="339.6" cy="98.6" r="1.09" fill="#a8842a"/><circle cx="301.8" cy="103.6" r="1.32" fill="#a8842a"/><circle cx="374.5" cy="86.1" r="1.40" fill="#c8a448"/><circle cx="317.8" cy="69.7" r="1.31" fill="#c8a448"/><circle cx="360.4" cy="107.6" r="1.03" fill="#c8a448"/><circle cx="296.7" cy="67.2" r="1.12" fill="#a8842a"/><circle cx="369.4" cy="113.5" r="1.16" fill="#a8842a"/><circle cx="338.0" cy="120.5" r="1.33" fill="#c8a448"/><circle cx="317.1" cy="99.2" r="1.38" fill="#a8842a"/><circle cx="301.7" cy="66.5" r="1.19" fill="#a8842a"/><circle cx="352.6" cy="132.4" r="0.63" fill="#c8a448"/><circle cx="359.9" cy="119.7" r="1.29" fill="#c8a448"/><circle cx="345.1" cy="136.3" r="0.69" fill="#a8842a"/><circle cx="370.6" cy="82.3" r="0.98" fill="#c8a448"/><circle cx="350.8" cy="128.7" r="1.01" fill="#a8842a"/><circle cx="312.0" cy="64.1" r="1.03" fill="#a8842a"/><circle cx="301.8" cy="112.8" r="0.68" fill="#a8842a"/><circle cx="298.1" cy="96.5" r="0.72" fill="#c8a448"/><circle cx="325.0" cy="132.6" r="0.86" fill="#c8a448"/><circle cx="318.0" cy="100.5" r="1.11" fill="#c8a448"/><circle cx="352.3" cy="53.2" r="0.96" fill="#c8a448"/><circle cx="364.4" cy="85.6" r="0.70" fill="#a8842a"/><circle cx="356.6" cy="66.4" r="1.31" fill="#a8842a"/><circle cx="351.2" cy="118.8" r="0.79" fill="#a8842a"/><circle cx="346.3" cy="75.5" r="1.03" fill="#c8a448"/><circle cx="372.6" cy="77.0" r="0.74" fill="#a8842a"/><circle cx="343.7" cy="97.7" r="1.33" fill="#a8842a"/><circle cx="336.7" cy="96.1" r="0.76" fill="#a8842a"/><circle cx="332.2" cy="86.3" r="1.22" fill="#c8a448"/><circle cx="373.5" cy="70.2" r="0.90" fill="#c8a448"/><circle cx="302.6" cy="57.1" r="0.65" fill="#c8a448"/><circle cx="336.4" cy="92.2" r="0.68" fill="#c8a448"/><circle cx="375.4" cy="118.2" r="1.33" fill="#c8a448"/><circle cx="320.9" cy="66.3" r="0.84" fill="#a8842a"/><circle cx="325.5" cy="52.8" r="0.63" fill="#c8a448"/><circle cx="363.8" cy="131.1" r="0.96" fill="#a8842a"/><circle cx="359.0" cy="79.0" r="1.01" fill="#a8842a"/><circle cx="363.3" cy="83.6" r="0.60" fill="#a8842a"/><circle cx="366.7" cy="65.8" r="1.10" fill="#a8842a"/><circle cx="317.7" cy="111.7" r="0.68" fill="#a8842a"/><circle cx="342.9" cy="87.6" r="1.20" fill="#c8a448"/><circle cx="318.3" cy="125.6" r="1.08" fill="#c8a448"/><circle cx="341.4" cy="123.5" r="1.15" fill="#a8842a"/><circle cx="348.0" cy="120.5" r="0.97" fill="#c8a448"/><circle cx="321.2" cy="104.2" r="1.05" fill="#c8a448"/><circle cx="310.7" cy="116.2" r="0.69" fill="#a8842a"/><circle cx="332.1" cy="118.9" r="1.29" fill="#c8a448"/><circle cx="336.3" cy="52.2" r="1.29" fill="#a8842a"/><circle cx="318.2" cy="79.1" r="0.79" fill="#a8842a"/><circle cx="319.1" cy="102.4" r="0.89" fill="#c8a448"/><circle cx="350.6" cy="122.7" r="1.18" fill="#a8842a"/><circle cx="311.4" cy="125.3" r="0.88" fill="#c8a448"/><circle cx="301.4" cy="127.9" r="1.38" fill="#a8842a"/><circle cx="351.3" cy="127.7" r="1.09" fill="#a8842a"/><circle cx="313.5" cy="50.9" r="0.82" fill="#c8a448"/><circle cx="342.9" cy="129.3" r="0.72" fill="#c8a448"/><circle cx="367.7" cy="114.2" r="0.87" fill="#a8842a"/><circle cx="331.1" cy="86.0" r="0.81" fill="#c8a448"/><circle cx="346.8" cy="74.4" r="0.74" fill="#a8842a"/><circle cx="352.9" cy="115.9" r="1.11" fill="#c8a448"/><circle cx="356.6" cy="93.1" r="1.20" fill="#c8a448"/><circle cx="323.3" cy="65.1" r="0.90" fill="#c8a448"/><circle cx="356.1" cy="79.0" r="1.03" fill="#a8842a"/><circle cx="343.8" cy="93.8" r="1.21" fill="#c8a448"/><circle cx="319.3" cy="62.8" r="1.33" fill="#c8a448"/><circle cx="373.3" cy="130.3" r="1.22" fill="#a8842a"/><circle cx="322.4" cy="91.4" r="1.16" fill="#a8842a"/><circle cx="340.8" cy="105.9" r="1.24" fill="#a8842a"/><circle cx="329.6" cy="104.7" r="0.97" fill="#c8a448"/><circle cx="304.6" cy="66.1" r="0.63" fill="#a8842a"/><circle cx="363.9" cy="109.2" r="1.11" fill="#c8a448"/><circle cx="361.7" cy="77.9" r="0.78" fill="#a8842a"/><circle cx="314.3" cy="108.8" r="0.66" fill="#a8842a"/><circle cx="353.8" cy="74.0" r="0.72" fill="#c8a448"/><circle cx="311.5" cy="139.9" r="1.31" fill="#a8842a"/><circle cx="335.1" cy="74.3" r="0.65" fill="#c8a448"/><circle cx="313.5" cy="56.3" r="1.35" fill="#a8842a"/><circle cx="342.5" cy="141.7" r="0.81" fill="#a8842a"/><circle cx="348.5" cy="117.4" r="0.78" fill="#a8842a"/><circle cx="336.7" cy="54.1" r="1.24" fill="#c8a448"/><circle cx="308.1" cy="107.1" r="1.07" fill="#a8842a"/><circle cx="330.4" cy="128.8" r="1.18" fill="#a8842a"/><circle cx="375.9" cy="116.2" r="1.05" fill="#a8842a"/><circle cx="324.5" cy="48.2" r="0.95" fill="#a8842a"/><circle cx="315.6" cy="79.2" r="0.72" fill="#a8842a"/><circle cx="336.3" cy="61.7" r="1.05" fill="#c8a448"/><circle cx="348.9" cy="72.6" r="1.35" fill="#a8842a"/><circle cx="353.8" cy="127.2" r="0.68" fill="#c8a448"/><circle cx="361.5" cy="92.3" r="0.62" fill="#a8842a"/><circle cx="360.1" cy="118.9" r="0.90" fill="#c8a448"/><circle cx="360.6" cy="48.7" r="1.20" fill="#c8a448"/><circle cx="344.5" cy="59.6" r="1.23" fill="#c8a448"/><circle cx="328.4" cy="53.1" r="0.74" fill="#a8842a"/><circle cx="369.7" cy="96.1" r="1.29" fill="#a8842a"/><circle cx="316.3" cy="72.1" r="0.83" fill="#c8a448"/><circle cx="325.5" cy="80.6" r="1.14" fill="#a8842a"/><circle cx="366.3" cy="119.0" r="1.27" fill="#a8842a"/><circle cx="327.6" cy="94.1" r="1.39" fill="#c8a448"/><circle cx="341.4" cy="98.3" r="0.66" fill="#c8a448"/><circle cx="344.8" cy="90.0" r="0.73" fill="#a8842a"/><circle cx="352.7" cy="75.4" r="0.81" fill="#a8842a"/><circle cx="335.7" cy="48.7" r="0.65" fill="#a8842a"/><circle cx="352.7" cy="86.9" r="0.61" fill="#a8842a"/><circle cx="311.6" cy="126.0" r="1.38" fill="#a8842a"/><circle cx="310.4" cy="49.9" r="0.99" fill="#a8842a"/><circle cx="358.5" cy="116.2" r="1.03" fill="#a8842a"/><circle cx="370.2" cy="73.3" r="0.79" fill="#a8842a"/><circle cx="343.0" cy="114.8" r="0.85" fill="#a8842a"/><circle cx="296.9" cy="108.6" r="1.17" fill="#a8842a"/><circle cx="315.3" cy="124.7" r="1.17" fill="#a8842a"/><circle cx="375.0" cy="121.1" r="1.17" fill="#a8842a"/><circle cx="373.3" cy="93.1" r="1.11" fill="#c8a448"/><circle cx="362.8" cy="65.9" r="0.70" fill="#a8842a"/><circle cx="305.6" cy="138.3" r="0.98" fill="#a8842a"/><circle cx="335.7" cy="92.6" r="1.18" fill="#a8842a"/><circle cx="365.4" cy="134.3" r="1.20" fill="#a8842a"/><circle cx="329.7" cy="133.7" r="1.06" fill="#a8842a"/><circle cx="362.0" cy="82.0" r="0.89" fill="#c8a448"/><circle cx="303.1" cy="48.7" r="0.94" fill="#a8842a"/><circle cx="305.0" cy="88.0" r="1.22" fill="#c8a448"/><circle cx="325.2" cy="93.7" r="0.62" fill="#c8a448"/><circle cx="318.3" cy="127.6" r="0.81" fill="#a8842a"/><circle cx="332.0" cy="67.9" r="0.61" fill="#a8842a"/><circle cx="314.2" cy="74.0" r="1.23" fill="#c8a448"/><circle cx="328.9" cy="50.5" r="1.21" fill="#a8842a"/><circle cx="304.0" cy="124.8" r="1.32" fill="#a8842a"/><circle cx="323.9" cy="63.9" r="0.62" fill="#c8a448"/><circle cx="360.9" cy="66.5" r="1.12" fill="#a8842a"/><circle cx="355.8" cy="86.4" r="1.16" fill="#a8842a"/><circle cx="302.6" cy="106.1" r="1.12" fill="#a8842a"/><circle cx="298.9" cy="75.5" r="1.18" fill="#c8a448"/><circle cx="331.7" cy="135.6" r="0.82" fill="#a8842a"/><circle cx="363.6" cy="97.2" r="1.00" fill="#c8a448"/><circle cx="307.9" cy="94.9" r="1.02" fill="#c8a448"/><circle cx="351.4" cy="75.6" r="0.98" fill="#a8842a"/><circle cx="304.3" cy="128.3" r="1.05" fill="#a8842a"/><circle cx="325.6" cy="94.2" r="0.90" fill="#a8842a"/><circle cx="371.9" cy="85.4" r="0.77" fill="#c8a448"/><circle cx="296.4" cy="84.0" r="1.05" fill="#c8a448"/><circle cx="320.2" cy="53.3" r="1.37" fill="#a8842a"/><circle cx="329.5" cy="100.2" r="1.39" fill="#a8842a"/><circle cx="315.3" cy="77.1" r="0.90" fill="#a8842a"/><circle cx="368.0" cy="100.4" r="1.19" fill="#a8842a"/><circle cx="372.5" cy="77.1" r="1.17" fill="#c8a448"/><circle cx="300.3" cy="63.3" r="1.03" fill="#a8842a"/><circle cx="300.6" cy="131.1" r="1.32" fill="#a8842a"/><circle cx="310.7" cy="91.2" r="1.26" fill="#c8a448"/><circle cx="341.0" cy="73.7" r="1.02" fill="#a8842a"/><circle cx="324.9" cy="48.7" r="0.61" fill="#c8a448"/><circle cx="357.4" cy="72.9" r="1.09" fill="#a8842a"/><circle cx="362.3" cy="110.5" r="1.18" fill="#a8842a"/><circle cx="330.8" cy="131.2" r="0.66" fill="#a8842a"/><circle cx="369.4" cy="76.3" r="0.65" fill="#c8a448"/><circle cx="306.4" cy="91.5" r="1.22" fill="#a8842a"/><circle cx="329.7" cy="143.1" r="1.29" fill="#a8842a"/><circle cx="373.8" cy="105.2" r="0.72" fill="#c8a448"/><circle cx="302.3" cy="96.2" r="1.09" fill="#c8a448"/><circle cx="361.4" cy="59.0" r="1.18" fill="#a8842a"/><circle cx="372.4" cy="111.8" r="1.15" fill="#a8842a"/><circle cx="369.1" cy="77.5" r="0.77" fill="#a8842a"/><circle cx="358.6" cy="80.9" r="0.98" fill="#c8a448"/><circle cx="315.8" cy="60.1" r="0.93" fill="#c8a448"/><circle cx="350.3" cy="69.6" r="1.13" fill="#c8a448"/><circle cx="352.3" cy="66.7" r="0.63" fill="#c8a448"/><circle cx="352.8" cy="75.9" r="1.19" fill="#c8a448"/><circle cx="346.4" cy="84.6" r="1.13" fill="#a8842a"/><circle cx="326.7" cy="81.1" r="1.19" fill="#c8a448"/><circle cx="319.3" cy="55.6" r="0.80" fill="#c8a448"/><circle cx="324.5" cy="49.1" r="1.27" fill="#a8842a"/><circle cx="301.4" cy="124.2" r="1.01" fill="#c8a448"/><circle cx="362.8" cy="132.0" r="0.91" fill="#c8a448"/><circle cx="335.6" cy="114.5" r="0.77" fill="#c8a448"/><circle cx="341.6" cy="133.9" r="1.28" fill="#a8842a"/><circle cx="365.2" cy="89.8" r="0.95" fill="#a8842a"/><circle cx="339.6" cy="127.5" r="0.73" fill="#a8842a"/><circle cx="325.2" cy="108.2" r="0.87" fill="#c8a448"/><circle cx="359.4" cy="81.9" r="0.94" fill="#c8a448"/><circle cx="336.9" cy="112.9" r="0.87" fill="#c8a448"/><circle cx="360.0" cy="69.8" r="0.83" fill="#a8842a"/><circle cx="370.3" cy="57.7" r="0.83" fill="#a8842a"/><circle cx="352.8" cy="115.5" r="0.70" fill="#a8842a"/><circle cx="353.6" cy="62.6" r="0.70" fill="#c8a448"/><circle cx="296.0" cy="56.1" r="0.75" fill="#c8a448"/><circle cx="323.9" cy="91.8" r="1.03" fill="#c8a448"/><circle cx="299.2" cy="67.7" r="0.92" fill="#c8a448"/><circle cx="306.6" cy="92.4" r="1.06" fill="#a8842a"/><circle cx="322.5" cy="54.2" r="1.33" fill="#a8842a"/><circle cx="308.7" cy="110.6" r="0.78" fill="#c8a448"/><circle cx="324.2" cy="66.4" r="0.98" fill="#c8a448"/><circle cx="353.3" cy="119.9" r="1.01" fill="#c8a448"/><circle cx="328.0" cy="103.8" r="1.36" fill="#c8a448"/><circle cx="333.9" cy="129.1" r="0.83" fill="#a8842a"/><circle cx="356.6" cy="86.1" r="0.88" fill="#a8842a"/><circle cx="302.1" cy="74.7" r="1.39" fill="#a8842a"/><circle cx="360.5" cy="48.6" r="0.85" fill="#a8842a"/><circle cx="321.0" cy="144.2" r="0.84" fill="#a8842a"/><circle cx="369.6" cy="129.1" r="0.65" fill="#a8842a"/><circle cx="351.1" cy="117.9" r="0.97" fill="#a8842a"/><circle cx="318.1" cy="85.9" r="0.93" fill="#c8a448"/><circle cx="329.1" cy="82.5" r="0.78" fill="#c8a448"/><circle cx="370.9" cy="66.8" r="1.22" fill="#c8a448"/><circle cx="314.5" cy="61.8" r="1.27" fill="#a8842a"/><circle cx="305.5" cy="57.2" r="1.25" fill="#a8842a"/><circle cx="296.1" cy="76.6" r="1.02" fill="#a8842a"/><circle cx="307.8" cy="134.6" r="0.82" fill="#a8842a"/><circle cx="316.4" cy="50.2" r="1.09" fill="#a8842a"/><circle cx="318.9" cy="85.3" r="0.98" fill="#a8842a"/><circle cx="327.2" cy="79.9" r="0.69" fill="#c8a448"/><circle cx="351.7" cy="97.8" r="0.66" fill="#c8a448"/><circle cx="326.4" cy="137.9" r="0.79" fill="#c8a448"/><circle cx="343.3" cy="84.1" r="1.24" fill="#a8842a"/><circle cx="307.5" cy="52.4" r="1.09" fill="#a8842a"/><circle cx="308.6" cy="52.9" r="1.22" fill="#a8842a"/><circle cx="364.7" cy="139.1" r="0.78" fill="#c8a448"/><circle cx="345.8" cy="134.4" r="0.85" fill="#a8842a"/><circle cx="367.7" cy="77.6" r="0.68" fill="#a8842a"/><circle cx="340.5" cy="79.3" r="1.36" fill="#a8842a"/><circle cx="327.8" cy="120.6" r="1.09" fill="#c8a448"/><circle cx="348.0" cy="137.0" r="1.29" fill="#c8a448"/><circle cx="327.9" cy="102.1" r="0.78" fill="#a8842a"/><circle cx="337.6" cy="92.7" r="0.91" fill="#a8842a"/><circle cx="374.5" cy="81.9" r="0.98" fill="#a8842a"/><circle cx="340.4" cy="127.6" r="1.08" fill="#c8a448"/><circle cx="325.3" cy="96.2" r="0.87" fill="#c8a448"/><circle cx="306.3" cy="70.9" r="1.21" fill="#a8842a"/><circle cx="301.2" cy="85.6" r="0.97" fill="#a8842a"/><circle cx="314.6" cy="83.5" r="0.83" fill="#a8842a"/><circle cx="336.6" cy="71.2" r="0.75" fill="#c8a448"/><circle cx="366.9" cy="86.7" r="1.02" fill="#a8842a"/><circle cx="297.5" cy="100.3" r="1.36" fill="#a8842a"/><circle cx="342.9" cy="74.7" r="1.20" fill="#c8a448"/><circle cx="348.6" cy="105.1" r="0.84" fill="#a8842a"/><circle cx="333.8" cy="91.1" r="0.93" fill="#c8a448"/><circle cx="351.2" cy="93.2" r="0.92" fill="#a8842a"/><circle cx="306.7" cy="70.5" r="0.93" fill="#a8842a"/></g>
<path d="M317,184 L313.5,150 C311,130 306,115 302,102 C298,90 298,76 304,68 C308,63 316,64 321,72 C327,68 334,64 341,57 C345,51 352,49 358,50 C368,51 374,59 373,68 C372,78 364,84 354,84 C348,87 343,93 339,101 C341,106 342,112 338,117 C336,125 336,140 339,152 L342,184" fill="none" stroke="#4a4a4a" stroke-width="1.3"/>
<path d="M359,50.5 C368,52 373,59 372.5,68 C372,77 365,83 357,84" fill="none" stroke="#7a98b8" stroke-width="2.4"/>
<defs><clipPath id="marrowclip"><path d="M320.5,184 L320,142 C320,132 334,132 334,142 L335.5,184 Z"/></clipPath></defs>
<path d="M320.5,184 L320,142 C320,132 334,132 334,142 L335.5,184 Z" fill="#9a2a2a"/>
<g clip-path="url(#marrowclip)"><path d="M321,138 C326,148 321,158 326,168 C330,176 324,180 327,186 M333,140 C329,150 335,160 331,172 C329,178 333,182 332,186" fill="none" stroke="#3a8ec0" stroke-width="2"/><path d="M327,134 C330,146 324,156 329,166 C333,174 330,180 331,186 M322,150 C326,154 325,160 322,166" fill="none" stroke="#e8202a" stroke-width="1.8"/><path d="M323,158 C325,162 324,166 322,170 M333,150 C335,154 334,158 333,162 M329,176 C331,179 330,182 329,184" fill="none" stroke="#e8c070" stroke-width="1.4"/></g>
<path d="M320.5,184 L320,142 C320,132 334,132 334,142 L335.5,184" fill="none" stroke="#4a3020" stroke-width="0.9"/>
<rect x="387" y="107.6" width="4.5" height="24.5" fill="#fff" stroke="#555" stroke-width="0.9"/>
<rect x="393.8" y="107.6" width="4.6" height="24.5" fill="#fff" stroke="#555" stroke-width="0.9"/>
<polygon points="400.6,107.6 450.5,107.6 450.5,96.3 472,120.1 450.5,143.9 450.5,132.1 400.6,132.1" fill="url(#pinkArr)" stroke="#555" stroke-width="0.9"/>
<rect x="268.3" y="241.3" width="143.4" height="36.5" fill="#ffe699" stroke="#5b6b8a" stroke-width="1.2"/>
<ellipse cx="340.6" cy="259.6" rx="30.3" ry="12.8" fill="#ffc000" stroke="#7a7a5a" stroke-width="1.1"/>
<g transform="translate(240,380) scale(0.2189)"><defs><clipPath id="gc0"><path d="M90,150 C80,100 130,80 190,90 C250,100 300,150 350,190 C390,220 430,240 432,262 C434,282 400,280 370,268 C320,250 260,220 200,195 C140,180 95,185 90,150 Z"/></clipPath><clipPath id="gc1"><path d="M275,110 C280,80 330,85 360,110 C400,145 440,200 500,225 C560,245 620,230 660,195 C690,170 720,175 715,210 C710,250 650,290 570,295 C490,300 420,260 370,210 C330,170 270,140 275,110 Z"/></clipPath><clipPath id="gc2"><path d="M565,320 C570,300 620,300 680,270 C740,235 780,170 810,135 C830,115 860,125 852,155 C840,200 800,260 740,300 C680,335 600,345 575,340 C565,337 563,330 565,320 Z"/></clipPath><clipPath id="gc3"><path d="M145,250 C150,205 220,205 280,230 C360,260 430,320 520,340 C600,355 680,330 760,270 C820,230 880,180 920,180 C950,180 955,210 930,225 C870,260 800,320 720,360 C640,395 560,400 480,385 C400,365 320,310 250,290 C190,280 140,290 145,250 Z"/></clipPath><clipPath id="gc4"><path d="M35,350 C40,310 100,310 160,325 C240,345 340,375 430,390 C490,400 530,405 527,428 C524,450 480,445 420,435 C340,425 250,395 160,385 C100,380 30,390 35,350 Z"/></clipPath><clipPath id="gc5"><path d="M325,400 L415,412 L412,468 L328,462 Z"/></clipPath><clipPath id="gc6"><path d="M200,460 C205,430 260,432 330,440 C420,450 520,470 620,470 C680,470 740,455 755,490 C765,525 700,535 620,530 C520,525 400,505 300,495 C240,490 195,495 200,460 Z"/></clipPath><clipPath id="gc7"><path d="M605,435 C610,415 680,400 760,360 C820,330 860,280 905,285 C945,290 940,350 900,380 C850,420 760,445 680,452 C630,456 602,452 605,435 Z"/></clipPath><clipPath id="gc8"><path d="M160,530 C160,500 200,500 240,520 C300,540 380,540 440,525 C470,515 480,540 470,565 C460,590 430,590 400,580 C340,565 260,565 210,575 C175,585 160,560 160,530 Z"/></clipPath><clipPath id="gv0"><ellipse cx="235" cy="55" rx="20" ry="28"/></clipPath><clipPath id="gv1"><ellipse cx="550" cy="155" rx="58" ry="55"/></clipPath><clipPath id="gv2"><ellipse cx="500" cy="550" rx="22" ry="30"/></clipPath></defs><path d="M90,150 C80,100 130,80 190,90 C250,100 300,150 350,190 C390,220 430,240 432,262 C434,282 400,280 370,268 C320,250 260,220 200,195 C140,180 95,185 90,150 Z" fill="#abcdec" stroke="#555" stroke-width="5.5"/><path d="M90,150 C80,100 130,80 190,90 C250,100 300,150 350,190 C390,220 430,240 432,262 C434,282 400,280 370,268 C320,250 260,220 200,195 C140,180 95,185 90,150 Z" fill="none" stroke="#76a7da" stroke-width="44" clip-path="url(#gc0)"/><path d="M90,150 C80,100 130,80 190,90 C250,100 300,150 350,190 C390,220 430,240 432,262 C434,282 400,280 370,268 C320,250 260,220 200,195 C140,180 95,185 90,150 Z" fill="none" stroke="#fff" stroke-width="16" clip-path="url(#gc0)"/><path d="M275,110 C280,80 330,85 360,110 C400,145 440,200 500,225 C560,245 620,230 660,195 C690,170 720,175 715,210 C710,250 650,290 570,295 C490,300 420,260 370,210 C330,170 270,140 275,110 Z" fill="#abcdec" stroke="#555" stroke-width="5.5"/><path d="M275,110 C280,80 330,85 360,110 C400,145 440,200 500,225 C560,245 620,230 660,195 C690,170 720,175 715,210 C710,250 650,290 570,295 C490,300 420,260 370,210 C330,170 270,140 275,110 Z" fill="none" stroke="#76a7da" stroke-width="44" clip-path="url(#gc1)"/><path d="M275,110 C280,80 330,85 360,110 C400,145 440,200 500,225 C560,245 620,230 660,195 C690,170 720,175 715,210 C710,250 650,290 570,295 C490,300 420,260 370,210 C330,170 270,140 275,110 Z" fill="none" stroke="#fff" stroke-width="16" clip-path="url(#gc1)"/><path d="M565,320 C570,300 620,300 680,270 C740,235 780,170 810,135 C830,115 860,125 852,155 C840,200 800,260 740,300 C680,335 600,345 575,340 C565,337 563,330 565,320 Z" fill="#abcdec" stroke="#555" stroke-width="5.5"/><path d="M565,320 C570,300 620,300 680,270 C740,235 780,170 810,135 C830,115 860,125 852,155 C840,200 800,260 740,300 C680,335 600,345 575,340 C565,337 563,330 565,320 Z" fill="none" stroke="#76a7da" stroke-width="44" clip-path="url(#gc2)"/><path d="M565,320 C570,300 620,300 680,270 C740,235 780,170 810,135 C830,115 860,125 852,155 C840,200 800,260 740,300 C680,335 600,345 575,340 C565,337 563,330 565,320 Z" fill="none" stroke="#fff" stroke-width="16" clip-path="url(#gc2)"/><path d="M145,250 C150,205 220,205 280,230 C360,260 430,320 520,340 C600,355 680,330 760,270 C820,230 880,180 920,180 C950,180 955,210 930,225 C870,260 800,320 720,360 C640,395 560,400 480,385 C400,365 320,310 250,290 C190,280 140,290 145,250 Z" fill="#abcdec" stroke="#555" stroke-width="5.5"/><path d="M145,250 C150,205 220,205 280,230 C360,260 430,320 520,340 C600,355 680,330 760,270 C820,230 880,180 920,180 C950,180 955,210 930,225 C870,260 800,320 720,360 C640,395 560,400 480,385 C400,365 320,310 250,290 C190,280 140,290 145,250 Z" fill="none" stroke="#76a7da" stroke-width="44" clip-path="url(#gc3)"/><path d="M145,250 C150,205 220,205 280,230 C360,260 430,320 520,340 C600,355 680,330 760,270 C820,230 880,180 920,180 C950,180 955,210 930,225 C870,260 800,320 720,360 C640,395 560,400 480,385 C400,365 320,310 250,290 C190,280 140,290 145,250 Z" fill="none" stroke="#fff" stroke-width="16" clip-path="url(#gc3)"/><path d="M35,350 C40,310 100,310 160,325 C240,345 340,375 430,390 C490,400 530,405 527,428 C524,450 480,445 420,435 C340,425 250,395 160,385 C100,380 30,390 35,350 Z" fill="#abcdec" stroke="#555" stroke-width="5.5"/><path d="M35,350 C40,310 100,310 160,325 C240,345 340,375 430,390 C490,400 530,405 527,428 C524,450 480,445 420,435 C340,425 250,395 160,385 C100,380 30,390 35,350 Z" fill="none" stroke="#76a7da" stroke-width="44" clip-path="url(#gc4)"/><path d="M35,350 C40,310 100,310 160,325 C240,345 340,375 430,390 C490,400 530,405 527,428 C524,450 480,445 420,435 C340,425 250,395 160,385 C100,380 30,390 35,350 Z" fill="none" stroke="#fff" stroke-width="16" clip-path="url(#gc4)"/><path d="M200,460 C205,430 260,432 330,440 C420,450 520,470 620,470 C680,470 740,455 755,490 C765,525 700,535 620,530 C520,525 400,505 300,495 C240,490 195,495 200,460 Z" fill="#abcdec" stroke="#555" stroke-width="5.5"/><path d="M200,460 C205,430 260,432 330,440 C420,450 520,470 620,470 C680,470 740,455 755,490 C765,525 700,535 620,530 C520,525 400,505 300,495 C240,490 195,495 200,460 Z" fill="none" stroke="#76a7da" stroke-width="44" clip-path="url(#gc6)"/><path d="M200,460 C205,430 260,432 330,440 C420,450 520,470 620,470 C680,470 740,455 755,490 C765,525 700,535 620,530 C520,525 400,505 300,495 C240,490 195,495 200,460 Z" fill="none" stroke="#fff" stroke-width="16" clip-path="url(#gc6)"/><path d="M605,435 C610,415 680,400 760,360 C820,330 860,280 905,285 C945,290 940,350 900,380 C850,420 760,445 680,452 C630,456 602,452 605,435 Z" fill="#abcdec" stroke="#555" stroke-width="5.5"/><path d="M605,435 C610,415 680,400 760,360 C820,330 860,280 905,285 C945,290 940,350 900,380 C850,420 760,445 680,452 C630,456 602,452 605,435 Z" fill="none" stroke="#76a7da" stroke-width="44" clip-path="url(#gc7)"/><path d="M605,435 C610,415 680,400 760,360 C820,330 860,280 905,285 C945,290 940,350 900,380 C850,420 760,445 680,452 C630,456 602,452 605,435 Z" fill="none" stroke="#fff" stroke-width="16" clip-path="url(#gc7)"/><path d="M160,530 C160,500 200,500 240,520 C300,540 380,540 440,525 C470,515 480,540 470,565 C460,590 430,590 400,580 C340,565 260,565 210,575 C175,585 160,560 160,530 Z" fill="#abcdec" stroke="#555" stroke-width="5.5"/><path d="M160,530 C160,500 200,500 240,520 C300,540 380,540 440,525 C470,515 480,540 470,565 C460,590 430,590 400,580 C340,565 260,565 210,575 C175,585 160,560 160,530 Z" fill="none" stroke="#76a7da" stroke-width="44" clip-path="url(#gc8)"/><path d="M160,530 C160,500 200,500 240,520 C300,540 380,540 440,525 C470,515 480,540 470,565 C460,590 430,590 400,580 C340,565 260,565 210,575 C175,585 160,560 160,530 Z" fill="none" stroke="#fff" stroke-width="16" clip-path="url(#gc8)"/><ellipse cx="235" cy="55" rx="20" ry="28" fill="#abcdec" stroke="#555" stroke-width="5.5"/><ellipse cx="235" cy="55" rx="20" ry="28" fill="none" stroke="#76a7da" stroke-width="36" clip-path="url(#gv0)"/><ellipse cx="235" cy="55" rx="20" ry="28" fill="none" stroke="#fff" stroke-width="16" clip-path="url(#gv0)"/><ellipse cx="550" cy="155" rx="58" ry="55" fill="#abcdec" stroke="#555" stroke-width="5.5"/><ellipse cx="550" cy="155" rx="58" ry="55" fill="none" stroke="#76a7da" stroke-width="36" clip-path="url(#gv1)"/><ellipse cx="550" cy="155" rx="58" ry="55" fill="none" stroke="#fff" stroke-width="16" clip-path="url(#gv1)"/><ellipse cx="500" cy="550" rx="22" ry="30" fill="#abcdec" stroke="#555" stroke-width="5.5"/><ellipse cx="500" cy="550" rx="22" ry="30" fill="none" stroke="#76a7da" stroke-width="36" clip-path="url(#gv2)"/><ellipse cx="500" cy="550" rx="22" ry="30" fill="none" stroke="#fff" stroke-width="16" clip-path="url(#gv2)"/><path d="M318,392 C332,400 334,430 322,446 L416,456 C406,440 406,420 420,405 Z" fill="#76a7da"/><path d="M318,392 C332,400 334,430 322,446 M420,405 C406,420 406,440 416,456" fill="none" stroke="#fff" stroke-width="16"/><path d="M312,392 C326,400 328,430 316,446 M426,405 C412,420 412,440 422,456" fill="none" stroke="#555" stroke-width="5.5"/><path d="M336,400 C344,420 344,436 338,450 L402,458 C396,440 396,420 404,410 Z" fill="#76a7da"/></g>
<path d="M539,72.7 C550,72.7 559,76 565,82 C572,90 574,104 574.5,118 C575,132 572,142 566,149 C559,157 549,160.5 538,160 C526,159.5 516,152 509,142 C503,132 500.5,120 501,108 C502,96 506,86 512,80 C519,75 529,72.7 539,72.7 Z" fill="#a3cce7" stroke="#76838f" stroke-width="1.3"/>
<path d="M512,80 C519,75 529,72.7 539,72.7 C550,72.7 559,76 565,82 M505,132 C502,120 502,100 509,88" fill="none" stroke="#d8ecf7" stroke-width="2"/>
<g fill="#e8f4fb" stroke="#3d85bd" stroke-width="0.65"><circle cx="506.1" cy="128.1" r="1.5"/><circle cx="505.6" cy="124.8" r="1.3"/><circle cx="551.2" cy="152.3" r="1.3"/><circle cx="546.3" cy="81.2" r="1.1"/><circle cx="567.1" cy="138.4" r="1.4"/><circle cx="572.2" cy="127.3" r="1.6"/><circle cx="518.9" cy="83.9" r="1.0"/><circle cx="571.1" cy="120.2" r="0.9"/><circle cx="549.7" cy="151.4" r="0.9"/><circle cx="506.0" cy="125.2" r="1.5"/><circle cx="504.5" cy="111.7" r="1.2"/><circle cx="520.8" cy="83.5" r="1.1"/><circle cx="573.5" cy="115.9" r="1.5"/><circle cx="529.6" cy="79.9" r="1.1"/><circle cx="530.5" cy="151.9" r="1.4"/><circle cx="509.8" cy="140.5" r="1.2"/><circle cx="571.6" cy="105.8" r="0.9"/><circle cx="546.8" cy="156.4" r="1.2"/><circle cx="570.4" cy="111.8" r="1.0"/><circle cx="514.3" cy="87.1" r="1.1"/><circle cx="565.6" cy="136.3" r="1.6"/><circle cx="539.6" cy="79.8" r="1.1"/><circle cx="563.0" cy="138.1" r="1.5"/><circle cx="552.7" cy="151.8" r="1.2"/><circle cx="550.5" cy="154.0" r="1.0"/><circle cx="518.6" cy="87.6" r="1.2"/><circle cx="545.4" cy="153.1" r="1.6"/><circle cx="548.6" cy="80.8" r="1.5"/><circle cx="546.0" cy="153.7" r="1.5"/><circle cx="518.4" cy="88.0" r="1.6"/><circle cx="545.3" cy="153.1" r="1.4"/><circle cx="522.7" cy="149.7" r="1.0"/><circle cx="566.3" cy="137.6" r="1.1"/><circle cx="511.9" cy="93.8" r="1.2"/><circle cx="570.0" cy="106.6" r="1.3"/><circle cx="559.1" cy="88.9" r="1.0"/><circle cx="567.1" cy="94.3" r="1.1"/><circle cx="550.7" cy="153.9" r="1.6"/><circle cx="549.6" cy="155.7" r="1.5"/><circle cx="511.9" cy="93.2" r="1.0"/><circle cx="572.3" cy="126.5" r="1.1"/><circle cx="529.0" cy="80.5" r="1.5"/><circle cx="511.6" cy="95.0" r="1.0"/><circle cx="532.3" cy="80.6" r="1.1"/><circle cx="505.6" cy="101.6" r="1.3"/><circle cx="531.4" cy="157.1" r="1.0"/><circle cx="569.8" cy="120.4" r="1.2"/><circle cx="567.3" cy="130.3" r="1.2"/><circle cx="509.8" cy="100.4" r="1.2"/><circle cx="565.4" cy="90.1" r="1.4"/><circle cx="525.9" cy="79.7" r="1.0"/><circle cx="568.1" cy="124.4" r="1.5"/><circle cx="527.3" cy="76.9" r="0.9"/><circle cx="516.3" cy="87.2" r="1.4"/><circle cx="523.1" cy="154.4" r="1.0"/><circle cx="505.2" cy="105.0" r="1.5"/><circle cx="535.2" cy="76.5" r="1.5"/><circle cx="565.9" cy="97.1" r="1.4"/><circle cx="566.3" cy="92.6" r="1.2"/><circle cx="546.8" cy="76.8" r="1.3"/><circle cx="515.0" cy="89.4" r="1.3"/><circle cx="513.9" cy="93.4" r="1.3"/><circle cx="572.9" cy="114.8" r="1.4"/><circle cx="511.8" cy="142.5" r="1.3"/><circle cx="505.7" cy="131.4" r="1.0"/><circle cx="538.0" cy="80.2" r="1.3"/><circle cx="506.4" cy="121.0" r="1.4"/><circle cx="504.3" cy="117.2" r="1.5"/><circle cx="536.9" cy="152.6" r="1.1"/><circle cx="524.2" cy="83.0" r="1.0"/><circle cx="566.1" cy="94.3" r="1.2"/><circle cx="563.1" cy="92.6" r="1.4"/><circle cx="548.4" cy="153.0" r="1.5"/><circle cx="568.0" cy="95.4" r="1.2"/><circle cx="510.1" cy="97.6" r="1.0"/><circle cx="503.3" cy="117.4" r="1.5"/><circle cx="529.5" cy="76.2" r="1.1"/><circle cx="554.0" cy="150.3" r="1.1"/><circle cx="545.3" cy="154.0" r="1.3"/><circle cx="505.8" cy="118.0" r="1.5"/><circle cx="570.7" cy="112.1" r="1.0"/><circle cx="572.2" cy="124.6" r="0.9"/><circle cx="529.4" cy="78.5" r="1.1"/><circle cx="545.9" cy="81.5" r="1.0"/><circle cx="508.4" cy="126.6" r="1.5"/><circle cx="540.5" cy="153.3" r="0.9"/><circle cx="515.4" cy="88.5" r="1.3"/><circle cx="518.6" cy="82.9" r="1.6"/><circle cx="525.3" cy="82.4" r="1.2"/><circle cx="551.3" cy="149.1" r="1.2"/><circle cx="531.0" cy="80.3" r="1.1"/><circle cx="518.7" cy="149.5" r="1.3"/><circle cx="512.2" cy="89.9" r="1.2"/><circle cx="547.1" cy="76.7" r="1.0"/><circle cx="569.2" cy="100.0" r="1.0"/><circle cx="505.7" cy="127.9" r="1.5"/><circle cx="514.1" cy="144.0" r="1.5"/><circle cx="548.2" cy="76.8" r="1.2"/><circle cx="519.6" cy="86.2" r="1.4"/><circle cx="552.1" cy="80.4" r="1.4"/><circle cx="546.0" cy="156.6" r="1.6"/><circle cx="571.0" cy="111.0" r="1.5"/><circle cx="523.0" cy="153.8" r="1.5"/><circle cx="520.0" cy="146.3" r="1.2"/><circle cx="505.3" cy="103.9" r="1.2"/><circle cx="572.1" cy="123.7" r="0.9"/><circle cx="547.7" cy="81.2" r="1.1"/><circle cx="545.4" cy="80.6" r="1.0"/><circle cx="504.0" cy="112.3" r="1.5"/><circle cx="524.9" cy="78.0" r="1.2"/><circle cx="567.5" cy="105.0" r="1.1"/><circle cx="506.3" cy="110.2" r="1.4"/><circle cx="516.6" cy="86.6" r="1.5"/><circle cx="508.1" cy="102.6" r="1.2"/><circle cx="557.7" cy="82.5" r="1.0"/><circle cx="558.9" cy="83.0" r="1.3"/><circle cx="509.6" cy="100.0" r="1.3"/><circle cx="504.4" cy="115.7" r="0.9"/><circle cx="570.6" cy="109.0" r="1.2"/><circle cx="548.5" cy="79.2" r="1.2"/><circle cx="526.8" cy="82.5" r="1.3"/><circle cx="507.7" cy="137.9" r="1.5"/><circle cx="534.0" cy="155.0" r="1.0"/><circle cx="506.3" cy="133.0" r="1.5"/><circle cx="506.1" cy="122.1" r="1.0"/><circle cx="512.1" cy="88.6" r="1.0"/><circle cx="543.6" cy="80.9" r="1.0"/><circle cx="542.8" cy="156.1" r="1.1"/><circle cx="517.3" cy="147.7" r="1.0"/><circle cx="534.3" cy="80.0" r="1.3"/><circle cx="537.9" cy="153.7" r="1.3"/><circle cx="508.0" cy="131.3" r="1.2"/><circle cx="507.1" cy="109.7" r="1.0"/><circle cx="515.1" cy="87.3" r="1.3"/><circle cx="558.0" cy="84.7" r="1.5"/><circle cx="541.7" cy="156.6" r="1.5"/><circle cx="564.4" cy="94.7" r="1.1"/><circle cx="566.1" cy="99.1" r="1.6"/><circle cx="561.8" cy="92.6" r="1.1"/><circle cx="533.3" cy="79.3" r="1.0"/><circle cx="554.2" cy="83.0" r="1.5"/><circle cx="560.9" cy="143.8" r="1.4"/><circle cx="569.5" cy="120.6" r="1.4"/><circle cx="568.0" cy="94.5" r="1.0"/><circle cx="503.7" cy="115.1" r="1.3"/><circle cx="525.6" cy="82.3" r="0.9"/><circle cx="562.3" cy="139.0" r="1.3"/><circle cx="504.7" cy="112.8" r="1.0"/><circle cx="550.7" cy="150.7" r="1.5"/><circle cx="573.1" cy="114.0" r="1.0"/></g>
<path d="M537.4,80.6 C545,80.5 551,82 554,86 C558,91 558,100 561,107 C564,113 566,116 566,122 C566,131 564,138 560,141 C555,145 548,146 541,145.5 C532,145 525,142 520,137 C513,130 510,122 509.5,112 C509,102 512,93 517,88 C522,83 530,80.7 537.4,80.6 Z" fill="#ad82b8" stroke="#6e5a80" stroke-width="0.9"/>
<path d="M552,84 C557,92 556,101 560,108 C565,116 567,122 566,130 C565,138 561,143 554,145 C548,146.5 543,146 538,145.5 C548,141 555,135 557,126 C558,118 553,110 552,100 C551,94 552,88 552,84 Z" fill="#894a9b"/>
<path d="M513,122 C511,108 514,96 521,89 C526,84 532,82 537,81.5" fill="none" stroke="#cbaed5" stroke-width="2.2"/>
<circle cx="518.6" cy="86.9" r="3" fill="#fff"/><circle cx="524" cy="84" r="1.3" fill="#fff"/>
<circle cx="534" cy="92" r="1.9" fill="#d4ecf4"/><circle cx="534" cy="92" r="1.0" fill="#23919f"/><circle cx="540" cy="97" r="1.9" fill="#d4ecf4"/><circle cx="540" cy="97" r="1.0" fill="#23919f"/><circle cx="531" cy="106" r="1.9" fill="#d4ecf4"/><circle cx="531" cy="106" r="1.0" fill="#23919f"/><circle cx="546" cy="105" r="1.9" fill="#d4ecf4"/><circle cx="546" cy="105" r="1.0" fill="#23919f"/><circle cx="551" cy="112" r="1.9" fill="#d4ecf4"/><circle cx="551" cy="112" r="1.0" fill="#23919f"/><circle cx="515" cy="114" r="1.9" fill="#d4ecf4"/><circle cx="515" cy="114" r="1.0" fill="#23919f"/><circle cx="536" cy="118" r="1.9" fill="#d4ecf4"/><circle cx="536" cy="118" r="1.0" fill="#23919f"/><circle cx="542" cy="116" r="1.9" fill="#d4ecf4"/><circle cx="542" cy="116" r="1.0" fill="#23919f"/><circle cx="544" cy="122" r="1.9" fill="#d4ecf4"/><circle cx="544" cy="122" r="1.0" fill="#23919f"/><circle cx="525" cy="120" r="1.9" fill="#d4ecf4"/><circle cx="525" cy="120" r="1.0" fill="#23919f"/><circle cx="540" cy="128" r="1.9" fill="#d4ecf4"/><circle cx="540" cy="128" r="1.0" fill="#23919f"/><circle cx="514" cy="126" r="1.9" fill="#d4ecf4"/><circle cx="514" cy="126" r="1.0" fill="#23919f"/><circle cx="522" cy="133" r="1.9" fill="#d4ecf4"/><circle cx="522" cy="133" r="1.0" fill="#23919f"/><circle cx="537" cy="135" r="1.9" fill="#d4ecf4"/><circle cx="537" cy="135" r="1.0" fill="#23919f"/><circle cx="550" cy="128" r="1.9" fill="#d4ecf4"/><circle cx="550" cy="128" r="1.0" fill="#23919f"/>
<defs><clipPath id="mbclip"><ellipse cx="678.7" cy="57.8" rx="38.5" ry="35"/></clipPath></defs>
<ellipse cx="678.7" cy="57.8" rx="39" ry="35.3" fill="#c6e3c0"/>
<g clip-path="url(#mbclip)"><path d="M692,24 C708,35 712,58 706,75 C700,87 690,93 672,95 L730,100 L730,20 Z" fill="#a6d4a5"/><path d="M705,29 C716,41 717,62 712,77 C707,87 698,92 686,94" fill="none" stroke="#5cb264" stroke-width="2.6"/><path d="M650,80 C642,66 642,46 652,34 C660,26 670,24 680,24" fill="none" stroke="#e6f3e2" stroke-width="3"/></g>
<ellipse cx="678.7" cy="57.8" rx="39" ry="35.3" fill="none" stroke="#6e6e6e" stroke-width="1.1"/>
<path d="M660,40 C668,33 688,30 698,36 C706,41 704,55 697,62 C690,69 688,80 676,84 C664,88 655,82 653,70 C651,58 652,47 660,40 Z" fill="#c98ab8" stroke="#6a5a64" stroke-width="1"/>
<path d="M700,38 C706,46 702,56 696,63 C690,70 688,80 676,84 C686,76 690,66 696,58 C700,52 701,44 700,38 Z" fill="#a65590"/>
<path d="M657,70 C655,58 657,48 663,42" fill="none" stroke="#e2bcd8" stroke-width="3"/>
<circle cx="662" cy="39.5" r="3" fill="#fff"/><circle cx="667" cy="37" r="1.4" fill="#fff"/>
<line x1="799.9" y1="23.0" x2="799.3" y2="17.0" stroke="#6a6a6a" stroke-width="3.2" stroke-linecap="round"/>
<line x1="799.9" y1="23.0" x2="799.4" y2="17.9" stroke="#d5e9ce" stroke-width="1.3" stroke-linecap="round"/>
<line x1="811.8" y1="21.5" x2="812.7" y2="15.5" stroke="#6a6a6a" stroke-width="3.2" stroke-linecap="round"/>
<line x1="811.8" y1="21.5" x2="812.6" y2="16.4" stroke="#d5e9ce" stroke-width="1.3" stroke-linecap="round"/>
<line x1="834.0" y1="29.4" x2="838.5" y2="25.5" stroke="#6a6a6a" stroke-width="3.2" stroke-linecap="round"/>
<line x1="834.0" y1="29.4" x2="837.8" y2="26.1" stroke="#d5e9ce" stroke-width="1.3" stroke-linecap="round"/>
<line x1="841.0" y1="52.7" x2="847.0" y2="52.7" stroke="#6a6a6a" stroke-width="3.2" stroke-linecap="round"/>
<line x1="841.0" y1="52.7" x2="846.1" y2="52.7" stroke="#d5e9ce" stroke-width="1.3" stroke-linecap="round"/>
<line x1="833.6" y1="62.2" x2="839.0" y2="64.6" stroke="#6a6a6a" stroke-width="3.2" stroke-linecap="round"/>
<line x1="833.6" y1="62.2" x2="838.2" y2="64.2" stroke="#d5e9ce" stroke-width="1.3" stroke-linecap="round"/>
<line x1="789.2" y1="85.0" x2="787.4" y2="91.0" stroke="#6a6a6a" stroke-width="3.2" stroke-linecap="round"/>
<line x1="789.2" y1="85.0" x2="787.7" y2="90.1" stroke="#d5e9ce" stroke-width="1.3" stroke-linecap="round"/>
<line x1="801.4" y1="89.5" x2="800.8" y2="95.5" stroke="#6a6a6a" stroke-width="3.2" stroke-linecap="round"/>
<line x1="801.4" y1="89.5" x2="800.9" y2="94.6" stroke="#d5e9ce" stroke-width="1.3" stroke-linecap="round"/>
<path d="M810,21 C822,21 831,26 836,32 C842,40 842,48 842,56 C842,68 839,76 834,82 C826,90 816,93 806,92 C793,91 781,85 776,75 C771,65 771,52 774,42 C778,30 794,21 810,21 Z" fill="#d5e9ce" stroke="#666" stroke-width="1.1"/>
<path d="M779,70 C775,58 777,42 786,32" fill="none" stroke="#ecf6ea" stroke-width="2"/>
<path d="M803,33 C815,31 830,32 834,40 C838,48 830,56 826,62 C824,68 826,75 820,80 C812,86 798,86 792,80 C786,73 786,60 788,50 C789,41 795,34 803,33 Z" fill="#e4cfde" stroke="#5a5a5a" stroke-width="1"/>
<path d="M826,62 C824,68 826,75 820,80 C812,86 798,86 792,80 C802,82 812,80 818,74 C822,70 822,66 826,62 Z" fill="#d2b2c8"/>
<circle cx="803" cy="35" r="3.3" fill="#fff"/><circle cx="809" cy="33" r="1.3" fill="#fff"/>
<path d="M925,34.5 C922,34.5 920,35 918.5,36" fill="none" stroke="#6a6a6a" stroke-width="3.2" stroke-linecap="round"/>
<path d="M925,34.5 C922,34.5 920,35 918.5,36" fill="none" stroke="#d3e8cc" stroke-width="1.3" stroke-linecap="round"/>
<path d="M929.5,24.5 C928,23 926.5,22 925.5,21.5" fill="none" stroke="#6a6a6a" stroke-width="3.2" stroke-linecap="round"/>
<path d="M929.5,24.5 C928,23 926.5,22 925.5,21.5" fill="none" stroke="#d3e8cc" stroke-width="1.3" stroke-linecap="round"/>
<path d="M938.8,15.5 C937.5,14 937,13 936.4,12" fill="none" stroke="#6a6a6a" stroke-width="3.2" stroke-linecap="round"/>
<path d="M938.8,15.5 C937.5,14 937,13 936.4,12" fill="none" stroke="#d3e8cc" stroke-width="1.3" stroke-linecap="round"/>
<path d="M951.5,12.5 C950.8,11 950.3,10 950,8.8" fill="none" stroke="#6a6a6a" stroke-width="3.2" stroke-linecap="round"/>
<path d="M951.5,12.5 C950.8,11 950.3,10 950,8.8" fill="none" stroke="#d3e8cc" stroke-width="1.3" stroke-linecap="round"/>
<path d="M978.5,12 C978.6,10 979,8 979.3,6.5" fill="none" stroke="#6a6a6a" stroke-width="3.2" stroke-linecap="round"/>
<path d="M978.5,12 C978.6,10 979,8 979.3,6.5" fill="none" stroke="#d3e8cc" stroke-width="1.3" stroke-linecap="round"/>
<path d="M988,14 C986.5,10 988,7.5 991,8 C994,8.5 994.5,13 993,18" fill="none" stroke="#6a6a6a" stroke-width="3.2" stroke-linecap="round"/>
<path d="M988,14 C986.5,10 988,7.5 991,8 C994,8.5 994.5,13 993,18" fill="none" stroke="#d3e8cc" stroke-width="1.3" stroke-linecap="round"/>
<path d="M995.5,24 C997,22.5 998,21.5 999,21" fill="none" stroke="#6a6a6a" stroke-width="3.2" stroke-linecap="round"/>
<path d="M995.5,24 C997,22.5 998,21.5 999,21" fill="none" stroke="#d3e8cc" stroke-width="1.3" stroke-linecap="round"/>
<path d="M1001,61 C1004,65 1006,68 1007.6,71" fill="none" stroke="#6a6a6a" stroke-width="3.2" stroke-linecap="round"/>
<path d="M1001,61 C1004,65 1006,68 1007.6,71" fill="none" stroke="#d3e8cc" stroke-width="1.3" stroke-linecap="round"/>
<path d="M996,66 C997.5,69 998.5,71 999,73" fill="none" stroke="#6a6a6a" stroke-width="3.2" stroke-linecap="round"/>
<path d="M996,66 C997.5,69 998.5,71 999,73" fill="none" stroke="#d3e8cc" stroke-width="1.3" stroke-linecap="round"/>
<path d="M989,70 C993,73 997,77 1003,82" fill="none" stroke="#6a6a6a" stroke-width="3.2" stroke-linecap="round"/>
<path d="M989,70 C993,73 997,77 1003,82" fill="none" stroke="#d3e8cc" stroke-width="1.3" stroke-linecap="round"/>
<path d="M984,76 C986,80 988,83 990,85.7" fill="none" stroke="#6a6a6a" stroke-width="3.2" stroke-linecap="round"/>
<path d="M984,76 C986,80 988,83 990,85.7" fill="none" stroke="#d3e8cc" stroke-width="1.3" stroke-linecap="round"/>
<path d="M929.5,80 C928.5,81 928,82 927.7,83" fill="none" stroke="#6a6a6a" stroke-width="3.2" stroke-linecap="round"/>
<path d="M929.5,80 C928.5,81 928,82 927.7,83" fill="none" stroke="#d3e8cc" stroke-width="1.3" stroke-linecap="round"/>
<path d="M935.6,89 C935,91.5 934.5,93.5 934.2,95.5" fill="none" stroke="#6a6a6a" stroke-width="3.2" stroke-linecap="round"/>
<path d="M935.6,89 C935,91.5 934.5,93.5 934.2,95.5" fill="none" stroke="#d3e8cc" stroke-width="1.3" stroke-linecap="round"/>
<defs><clipPath id="macclip"><path d="M964.2,10.7 C966.4,10.8 968.6,11.2 971.0,11.5 C973.4,11.8 976.3,12.1 978.5,12.3 C980.7,12.5 982.1,12.1 984.0,12.5 C985.9,12.9 988.1,13.8 989.6,15.0 C991.1,16.2 992.0,18.2 993.0,20.0 C994.0,21.8 994.5,23.8 995.5,26.0 C996.5,28.2 998.0,30.4 999.0,33.0 C1000.0,35.6 1000.7,39.2 1001.5,41.7 C1002.3,44.2 1003.5,45.9 1004.0,48.0 C1004.5,50.1 1004.8,52.3 1004.5,54.4 C1004.2,56.5 1003.2,58.6 1002.0,60.5 C1000.8,62.4 999.0,64.4 997.0,66.0 C995.0,67.6 992.3,68.0 990.0,70.0 C987.7,72.0 985.6,75.7 983.3,78.0 C981.0,80.3 978.5,82.2 976.0,84.0 C973.5,85.8 970.7,87.6 968.0,89.0 C965.3,90.4 962.8,91.9 960.0,92.5 C957.2,93.1 953.7,92.8 951.0,92.5 C948.3,92.2 946.1,91.9 943.6,91.0 C941.1,90.1 938.1,88.8 936.0,87.0 C933.9,85.2 932.4,82.8 930.9,80.5 C929.4,78.2 928.0,75.4 927.0,73.0 C926.0,70.6 925.7,68.5 925.0,66.0 C924.3,63.5 923.4,60.7 923.0,58.0 C922.6,55.3 922.5,52.3 922.5,50.0 C922.5,47.7 922.4,46.3 922.9,44.0 C923.4,41.7 924.6,38.5 925.5,36.0 C926.4,33.5 927.1,31.1 928.0,29.0 C928.9,26.9 929.5,25.4 931.0,23.5 C932.5,21.6 934.8,19.2 937.0,17.5 C939.2,15.8 941.6,14.4 944.0,13.5 C946.4,12.6 949.2,12.4 951.5,12.0 C953.8,11.6 955.9,11.2 958.0,11.0 C960.1,10.8 962.0,10.6 964.2,10.7 Z"/></clipPath></defs>
<path d="M964.2,10.7 C966.4,10.8 968.6,11.2 971.0,11.5 C973.4,11.8 976.3,12.1 978.5,12.3 C980.7,12.5 982.1,12.1 984.0,12.5 C985.9,12.9 988.1,13.8 989.6,15.0 C991.1,16.2 992.0,18.2 993.0,20.0 C994.0,21.8 994.5,23.8 995.5,26.0 C996.5,28.2 998.0,30.4 999.0,33.0 C1000.0,35.6 1000.7,39.2 1001.5,41.7 C1002.3,44.2 1003.5,45.9 1004.0,48.0 C1004.5,50.1 1004.8,52.3 1004.5,54.4 C1004.2,56.5 1003.2,58.6 1002.0,60.5 C1000.8,62.4 999.0,64.4 997.0,66.0 C995.0,67.6 992.3,68.0 990.0,70.0 C987.7,72.0 985.6,75.7 983.3,78.0 C981.0,80.3 978.5,82.2 976.0,84.0 C973.5,85.8 970.7,87.6 968.0,89.0 C965.3,90.4 962.8,91.9 960.0,92.5 C957.2,93.1 953.7,92.8 951.0,92.5 C948.3,92.2 946.1,91.9 943.6,91.0 C941.1,90.1 938.1,88.8 936.0,87.0 C933.9,85.2 932.4,82.8 930.9,80.5 C929.4,78.2 928.0,75.4 927.0,73.0 C926.0,70.6 925.7,68.5 925.0,66.0 C924.3,63.5 923.4,60.7 923.0,58.0 C922.6,55.3 922.5,52.3 922.5,50.0 C922.5,47.7 922.4,46.3 922.9,44.0 C923.4,41.7 924.6,38.5 925.5,36.0 C926.4,33.5 927.1,31.1 928.0,29.0 C928.9,26.9 929.5,25.4 931.0,23.5 C932.5,21.6 934.8,19.2 937.0,17.5 C939.2,15.8 941.6,14.4 944.0,13.5 C946.4,12.6 949.2,12.4 951.5,12.0 C953.8,11.6 955.9,11.2 958.0,11.0 C960.1,10.8 962.0,10.6 964.2,10.7 Z" fill="#d2e7cb"/>
<g clip-path="url(#macclip)"><path d="M993,22 C999,52 990,76 968,85 C958,89 948,90 938,89 L1010,100 L1010,15 Z" fill="#c0ddb8"/><path d="M928,66 C925,50 930,34 944,22" fill="none" stroke="#f0f8ee" stroke-width="2.2"/></g>
<path d="M964.2,10.7 C966.4,10.8 968.6,11.2 971.0,11.5 C973.4,11.8 976.3,12.1 978.5,12.3 C980.7,12.5 982.1,12.1 984.0,12.5 C985.9,12.9 988.1,13.8 989.6,15.0 C991.1,16.2 992.0,18.2 993.0,20.0 C994.0,21.8 994.5,23.8 995.5,26.0 C996.5,28.2 998.0,30.4 999.0,33.0 C1000.0,35.6 1000.7,39.2 1001.5,41.7 C1002.3,44.2 1003.5,45.9 1004.0,48.0 C1004.5,50.1 1004.8,52.3 1004.5,54.4 C1004.2,56.5 1003.2,58.6 1002.0,60.5 C1000.8,62.4 999.0,64.4 997.0,66.0 C995.0,67.6 992.3,68.0 990.0,70.0 C987.7,72.0 985.6,75.7 983.3,78.0 C981.0,80.3 978.5,82.2 976.0,84.0 C973.5,85.8 970.7,87.6 968.0,89.0 C965.3,90.4 962.8,91.9 960.0,92.5 C957.2,93.1 953.7,92.8 951.0,92.5 C948.3,92.2 946.1,91.9 943.6,91.0 C941.1,90.1 938.1,88.8 936.0,87.0 C933.9,85.2 932.4,82.8 930.9,80.5 C929.4,78.2 928.0,75.4 927.0,73.0 C926.0,70.6 925.7,68.5 925.0,66.0 C924.3,63.5 923.4,60.7 923.0,58.0 C922.6,55.3 922.5,52.3 922.5,50.0 C922.5,47.7 922.4,46.3 922.9,44.0 C923.4,41.7 924.6,38.5 925.5,36.0 C926.4,33.5 927.1,31.1 928.0,29.0 C928.9,26.9 929.5,25.4 931.0,23.5 C932.5,21.6 934.8,19.2 937.0,17.5 C939.2,15.8 941.6,14.4 944.0,13.5 C946.4,12.6 949.2,12.4 951.5,12.0 C953.8,11.6 955.9,11.2 958.0,11.0 C960.1,10.8 962.0,10.6 964.2,10.7 Z" fill="none" stroke="#6a6a6a" stroke-width="1.1"/>
<defs><clipPath id="macnclip"><path d="M935.6,35.3 C938.0,34.4 943.8,33.2 946.7,33.7 C949.6,34.2 950.9,36.1 953.0,38.0 C955.1,39.9 957.3,43.2 959.4,44.9 C961.5,46.6 962.9,47.2 965.8,48.0 C968.7,48.8 974.4,48.3 976.9,49.6 C979.4,50.9 980.3,53.8 980.5,56.0 C980.7,58.2 979.1,60.9 978.0,63.0 C976.9,65.1 975.7,67.0 973.7,68.7 C971.7,70.5 968.4,72.2 966.0,73.5 C963.6,74.8 962.1,76.3 959.4,76.6 C956.7,76.8 952.6,76.0 950.0,75.0 C947.4,74.0 945.9,72.5 943.6,70.3 C941.3,68.1 937.9,64.7 936.0,62.0 C934.1,59.4 933.2,57.2 932.5,54.4 C931.8,51.6 931.5,47.6 931.5,45.0 C931.5,42.4 931.8,40.6 932.5,39.0 C933.2,37.4 933.2,36.2 935.6,35.3 Z"/></clipPath></defs>
<path d="M935.6,35.3 C938.0,34.4 943.8,33.2 946.7,33.7 C949.6,34.2 950.9,36.1 953.0,38.0 C955.1,39.9 957.3,43.2 959.4,44.9 C961.5,46.6 962.9,47.2 965.8,48.0 C968.7,48.8 974.4,48.3 976.9,49.6 C979.4,50.9 980.3,53.8 980.5,56.0 C980.7,58.2 979.1,60.9 978.0,63.0 C976.9,65.1 975.7,67.0 973.7,68.7 C971.7,70.5 968.4,72.2 966.0,73.5 C963.6,74.8 962.1,76.3 959.4,76.6 C956.7,76.8 952.6,76.0 950.0,75.0 C947.4,74.0 945.9,72.5 943.6,70.3 C941.3,68.1 937.9,64.7 936.0,62.0 C934.1,59.4 933.2,57.2 932.5,54.4 C931.8,51.6 931.5,47.6 931.5,45.0 C931.5,42.4 931.8,40.6 932.5,39.0 C933.2,37.4 933.2,36.2 935.6,35.3 Z" fill="#e2d2df"/>
<g clip-path="url(#macnclip)"><path d="M980,60 C975,70 966,76 956,77 C946,78 938,72 934,62 C940,68 950,71 960,70 C968,69 974,65 980,60 Z" fill="#c7a2be"/></g>
<path d="M935.6,35.3 C938.0,34.4 943.8,33.2 946.7,33.7 C949.6,34.2 950.9,36.1 953.0,38.0 C955.1,39.9 957.3,43.2 959.4,44.9 C961.5,46.6 962.9,47.2 965.8,48.0 C968.7,48.8 974.4,48.3 976.9,49.6 C979.4,50.9 980.3,53.8 980.5,56.0 C980.7,58.2 979.1,60.9 978.0,63.0 C976.9,65.1 975.7,67.0 973.7,68.7 C971.7,70.5 968.4,72.2 966.0,73.5 C963.6,74.8 962.1,76.3 959.4,76.6 C956.7,76.8 952.6,76.0 950.0,75.0 C947.4,74.0 945.9,72.5 943.6,70.3 C941.3,68.1 937.9,64.7 936.0,62.0 C934.1,59.4 933.2,57.2 932.5,54.4 C931.8,51.6 931.5,47.6 931.5,45.0 C931.5,42.4 931.8,40.6 932.5,39.0 C933.2,37.4 933.2,36.2 935.6,35.3 Z" fill="none" stroke="#5a5a5a" stroke-width="1"/>
<circle cx="938" cy="33" r="3" fill="#fff"/><circle cx="944" cy="30" r="2" fill="#fff"/>
<defs><clipPath id="mkbclip"><path d="M681.1,157.7 C685.1,157.9 689.8,158.7 694.0,160.0 C698.2,161.3 703.3,163.5 706.6,165.3 C709.9,167.1 711.7,168.7 714.0,171.0 C716.3,173.3 718.2,175.8 720.2,179.0 C722.2,182.2 724.6,186.3 726.0,190.0 C727.4,193.7 728.5,197.1 728.8,201.1 C729.1,205.1 728.6,209.8 728.0,214.0 C727.4,218.2 727.2,223.1 725.4,226.6 C723.6,230.1 720.1,232.4 717.0,235.0 C713.9,237.6 710.4,240.0 706.6,242.0 C702.8,244.0 698.2,245.9 694.0,247.0 C689.8,248.1 685.4,249.1 681.1,248.8 C676.8,248.5 672.3,246.7 668.0,245.0 C663.7,243.3 659.0,241.2 655.5,238.5 C652.0,235.8 649.5,232.4 647.0,229.0 C644.5,225.6 641.9,221.9 640.2,218.1 C638.5,214.3 637.7,210.0 637.0,206.0 C636.3,202.0 635.7,198.0 636.0,194.3 C636.3,190.6 637.7,187.1 639.0,184.0 C640.3,180.9 641.6,178.3 643.6,175.5 C645.6,172.7 648.2,169.3 651.0,167.0 C653.8,164.7 657.4,163.3 660.6,161.9 C663.8,160.5 666.6,159.2 670.0,158.5 C673.4,157.8 677.1,157.4 681.1,157.7 Z"/></clipPath></defs>
<path d="M681.1,157.7 C685.1,157.9 689.8,158.7 694.0,160.0 C698.2,161.3 703.3,163.5 706.6,165.3 C709.9,167.1 711.7,168.7 714.0,171.0 C716.3,173.3 718.2,175.8 720.2,179.0 C722.2,182.2 724.6,186.3 726.0,190.0 C727.4,193.7 728.5,197.1 728.8,201.1 C729.1,205.1 728.6,209.8 728.0,214.0 C727.4,218.2 727.2,223.1 725.4,226.6 C723.6,230.1 720.1,232.4 717.0,235.0 C713.9,237.6 710.4,240.0 706.6,242.0 C702.8,244.0 698.2,245.9 694.0,247.0 C689.8,248.1 685.4,249.1 681.1,248.8 C676.8,248.5 672.3,246.7 668.0,245.0 C663.7,243.3 659.0,241.2 655.5,238.5 C652.0,235.8 649.5,232.4 647.0,229.0 C644.5,225.6 641.9,221.9 640.2,218.1 C638.5,214.3 637.7,210.0 637.0,206.0 C636.3,202.0 635.7,198.0 636.0,194.3 C636.3,190.6 637.7,187.1 639.0,184.0 C640.3,180.9 641.6,178.3 643.6,175.5 C645.6,172.7 648.2,169.3 651.0,167.0 C653.8,164.7 657.4,163.3 660.6,161.9 C663.8,160.5 666.6,159.2 670.0,158.5 C673.4,157.8 677.1,157.4 681.1,157.7 Z" fill="#dbe7f4" stroke="#5e6a78" stroke-width="1.1"/>
<g clip-path="url(#mkbclip)"><path d="M704,166 C716,184 719,208 713,224 C704,238 690,244 668,246 L740,260 L740,150 Z" fill="#b3cfeb"/><path d="M716,172 C727,190 729,214 722,230 C712,243 698,248 684,249 L740,260 L740,160 Z" fill="#9cbfe6"/><path d="M642,214 C636,196 642,176 658,166 C670,160 682,160 692,162" fill="none" stroke="#f4f8fd" stroke-width="3"/></g>
<g transform="rotate(12 682.4 203.5)"><ellipse cx="682.4" cy="203.5" rx="32.5" ry="25" fill="#9870a8" stroke="#4e3a5e" stroke-width="1.1"/><path d="M700,182 C716,192 716,214 700,226 C690,232 676,230 666,226 C690,226 708,214 700,182 Z" fill="#6e3c82" opacity="0.5"/></g>
<g fill="#4e2464" ><circle cx="707.7" cy="211.3" r="1.01"/><circle cx="683.9" cy="191.5" r="1.01"/><circle cx="664.1" cy="202.2" r="1.16"/><circle cx="705.8" cy="205.0" r="1.43"/><circle cx="690.3" cy="216.3" r="1.31"/><circle cx="672.2" cy="208.7" r="0.68"/><circle cx="678.9" cy="203.3" r="1.48"/><circle cx="689.9" cy="186.8" r="1.45"/><circle cx="670.2" cy="193.8" r="1.16"/><circle cx="654.7" cy="202.9" r="1.39"/><circle cx="681.0" cy="223.5" r="1.32"/><circle cx="686.8" cy="184.8" r="0.95"/><circle cx="703.3" cy="191.6" r="1.26"/><circle cx="685.1" cy="185.2" r="0.95"/><circle cx="681.1" cy="198.0" r="0.88"/><circle cx="679.6" cy="203.9" r="0.89"/><circle cx="668.2" cy="190.8" r="0.76"/><circle cx="703.9" cy="197.7" r="0.87"/><circle cx="671.1" cy="190.1" r="1.09"/><circle cx="660.9" cy="216.9" r="1.21"/><circle cx="675.0" cy="186.0" r="1.58"/><circle cx="704.1" cy="205.9" r="1.31"/><circle cx="681.7" cy="216.8" r="0.56"/><circle cx="688.2" cy="215.6" r="0.61"/><circle cx="682.3" cy="223.5" r="1.11"/><circle cx="654.9" cy="202.5" r="1.12"/><circle cx="704.8" cy="203.0" r="1.39"/><circle cx="701.6" cy="211.0" r="1.34"/><circle cx="708.3" cy="209.2" r="0.68"/><circle cx="671.1" cy="205.0" r="1.05"/><circle cx="677.2" cy="200.2" r="1.54"/><circle cx="664.5" cy="210.8" r="1.16"/><circle cx="672.5" cy="211.9" r="1.22"/><circle cx="668.6" cy="199.3" r="1.29"/><circle cx="681.5" cy="205.9" r="0.77"/><circle cx="693.1" cy="205.7" r="1.33"/><circle cx="662.0" cy="216.2" r="1.32"/><circle cx="708.9" cy="210.0" r="1.54"/><circle cx="706.3" cy="212.4" r="0.97"/><circle cx="655.1" cy="206.4" r="0.77"/><circle cx="655.6" cy="200.5" r="1.30"/><circle cx="655.2" cy="207.6" r="1.40"/><circle cx="674.8" cy="199.2" r="1.19"/><circle cx="670.3" cy="206.1" r="0.56"/><circle cx="672.7" cy="202.2" r="0.99"/><circle cx="673.1" cy="191.2" r="0.79"/><circle cx="666.6" cy="196.8" r="1.36"/><circle cx="655.0" cy="199.5" r="1.55"/><circle cx="681.1" cy="193.3" r="0.63"/><circle cx="701.8" cy="191.9" r="1.19"/><circle cx="673.2" cy="212.0" r="1.25"/><circle cx="662.6" cy="197.1" r="1.20"/><circle cx="682.7" cy="194.4" r="0.77"/><circle cx="709.0" cy="200.9" r="1.47"/><circle cx="689.1" cy="204.8" r="0.80"/><circle cx="662.7" cy="211.0" r="0.61"/><circle cx="675.1" cy="202.0" r="0.60"/><circle cx="673.1" cy="189.6" r="1.19"/><circle cx="668.9" cy="213.9" r="0.73"/><circle cx="669.0" cy="218.6" r="1.42"/></g>
<g fill="#c8a8d8" ><circle cx="691.1" cy="206.8" r="0.82"/><circle cx="664.9" cy="190.6" r="0.59"/><circle cx="669.8" cy="208.4" r="0.82"/><circle cx="667.0" cy="216.0" r="0.90"/><circle cx="672.9" cy="217.3" r="0.80"/><circle cx="698.5" cy="196.9" r="0.65"/><circle cx="703.9" cy="214.7" r="0.53"/><circle cx="700.6" cy="211.4" r="0.69"/><circle cx="676.3" cy="193.0" r="0.81"/><circle cx="693.9" cy="208.0" r="0.76"/><circle cx="695.8" cy="209.2" r="0.79"/><circle cx="677.3" cy="193.0" r="0.56"/><circle cx="667.4" cy="217.4" r="0.65"/><circle cx="699.9" cy="215.4" r="0.73"/><circle cx="706.1" cy="193.5" r="0.87"/></g>
<defs><clipPath id="mkcclip"><path d="M821.2,157.5 C824.9,157.6 828.4,158.4 832.0,159.5 C835.6,160.6 839.8,162.2 843.0,164.0 C846.2,165.8 848.6,168.0 851.0,170.5 C853.4,173.0 855.7,175.9 857.5,179.0 C859.3,182.1 860.9,185.5 862.0,189.0 C863.1,192.5 863.9,195.7 864.0,200.0 C864.1,204.3 863.6,210.0 862.5,215.0 C861.4,220.0 860.2,226.0 857.5,230.0 C854.8,234.0 850.1,236.4 846.0,239.0 C841.9,241.6 837.8,244.4 833.1,245.5 C828.4,246.6 822.8,246.3 818.0,245.8 C813.2,245.3 808.7,244.5 804.2,242.5 C799.7,240.5 795.0,237.2 791.0,234.0 C787.0,230.8 783.1,227.0 780.3,223.2 C777.5,219.4 775.3,215.2 774.0,211.0 C772.7,206.8 772.2,202.0 772.5,197.7 C772.8,193.4 773.9,189.0 775.5,185.0 C777.1,181.0 779.6,176.8 782.0,173.8 C784.4,170.8 787.2,168.9 790.0,167.0 C792.8,165.1 795.7,163.9 799.0,162.5 C802.3,161.1 806.3,159.6 810.0,158.8 C813.7,158.0 817.5,157.4 821.2,157.5 Z"/></clipPath></defs>
<path d="M821.2,157.5 C824.9,157.6 828.4,158.4 832.0,159.5 C835.6,160.6 839.8,162.2 843.0,164.0 C846.2,165.8 848.6,168.0 851.0,170.5 C853.4,173.0 855.7,175.9 857.5,179.0 C859.3,182.1 860.9,185.5 862.0,189.0 C863.1,192.5 863.9,195.7 864.0,200.0 C864.1,204.3 863.6,210.0 862.5,215.0 C861.4,220.0 860.2,226.0 857.5,230.0 C854.8,234.0 850.1,236.4 846.0,239.0 C841.9,241.6 837.8,244.4 833.1,245.5 C828.4,246.6 822.8,246.3 818.0,245.8 C813.2,245.3 808.7,244.5 804.2,242.5 C799.7,240.5 795.0,237.2 791.0,234.0 C787.0,230.8 783.1,227.0 780.3,223.2 C777.5,219.4 775.3,215.2 774.0,211.0 C772.7,206.8 772.2,202.0 772.5,197.7 C772.8,193.4 773.9,189.0 775.5,185.0 C777.1,181.0 779.6,176.8 782.0,173.8 C784.4,170.8 787.2,168.9 790.0,167.0 C792.8,165.1 795.7,163.9 799.0,162.5 C802.3,161.1 806.3,159.6 810.0,158.8 C813.7,158.0 817.5,157.4 821.2,157.5 Z" fill="#e9a3bb"/>
<g clip-path="url(#mkcclip)"><path d="M850,172 C860,188 861,214 853,228 C844,240 830,244 812,245 L870,260 L875,150 Z" fill="#d24e84"/><path d="M842,166 C855,182 856,210 848,225 C838,238 824,242 806,243 L870,260 L875,150 Z" fill="#e48fb0" opacity="0.85"/><path d="M850,172 C860,188 861,214 853,228 C844,240 830,244 812,245 L870,260 L875,150 Z" fill="#d24e84"/><path d="M779,212 C774,194 780,176 796,166 C808,160 820,160 830,161" fill="none" stroke="#f5c6d5" stroke-width="3.5"/><path d="M798,232 C812,240 832,240 846,230" fill="none" stroke="#f2bed0" stroke-width="5"/></g>
<path d="M821.2,157.5 C824.9,157.6 828.4,158.4 832.0,159.5 C835.6,160.6 839.8,162.2 843.0,164.0 C846.2,165.8 848.6,168.0 851.0,170.5 C853.4,173.0 855.7,175.9 857.5,179.0 C859.3,182.1 860.9,185.5 862.0,189.0 C863.1,192.5 863.9,195.7 864.0,200.0 C864.1,204.3 863.6,210.0 862.5,215.0 C861.4,220.0 860.2,226.0 857.5,230.0 C854.8,234.0 850.1,236.4 846.0,239.0 C841.9,241.6 837.8,244.4 833.1,245.5 C828.4,246.6 822.8,246.3 818.0,245.8 C813.2,245.3 808.7,244.5 804.2,242.5 C799.7,240.5 795.0,237.2 791.0,234.0 C787.0,230.8 783.1,227.0 780.3,223.2 C777.5,219.4 775.3,215.2 774.0,211.0 C772.7,206.8 772.2,202.0 772.5,197.7 C772.8,193.4 773.9,189.0 775.5,185.0 C777.1,181.0 779.6,176.8 782.0,173.8 C784.4,170.8 787.2,168.9 790.0,167.0 C792.8,165.1 795.7,163.9 799.0,162.5 C802.3,161.1 806.3,159.6 810.0,158.8 C813.7,158.0 817.5,157.4 821.2,157.5 Z" fill="none" stroke="#5a4a50" stroke-width="1.1"/>
<path d="M790.5,184 C796,180 802,180 807.6,179.8 C813,179.5 816,178 820,177 C826,175 829,173.5 834,173.8 C843,174.5 849,179 850,188 C851,196 850,203 846,208 C842,212 836,213 830,214.5 C824,216 820,218 815,221 C810,224 806,225.5 800,225 C792,224 787,220 785,212 C783,204 784,196 786,190 C787,187 789,185 790.5,184 Z" fill="#7f4f92" stroke="#4a2a5a" stroke-width="1.1"/>
<path d="M848,186 C852,198 848,208 838,212 C830,215 822,216 816,221 C812,224 806,226 800,225 C810,220 822,212 834,208 C842,204 848,196 848,186 Z" fill="#5e2e72" opacity="0.6"/>
<g><circle cx="805.2" cy="191.2" r="1.2" fill="#45205a"/><circle cx="842.4" cy="187.9" r="0.8" fill="#45205a"/><circle cx="808.9" cy="195.0" r="0.7" fill="#45205a"/><circle cx="821.5" cy="184.5" r="1.2" fill="#45205a"/><circle cx="818.5" cy="202.1" r="1.3" fill="#45205a"/><circle cx="790.0" cy="202.2" r="0.6" fill="#45205a"/><circle cx="791.1" cy="211.4" r="0.6" fill="#45205a"/><circle cx="826.0" cy="182.9" r="1.0" fill="#45205a"/><circle cx="801.5" cy="186.6" r="0.9" fill="#45205a"/><circle cx="834.2" cy="194.9" r="1.3" fill="#d6b8e6"/><circle cx="828.4" cy="199.7" r="1.1" fill="#45205a"/><circle cx="826.3" cy="201.1" r="1.1" fill="#45205a"/><circle cx="812.6" cy="196.2" r="1.1" fill="#d6b8e6"/><circle cx="848.4" cy="194.0" r="0.7" fill="#d6b8e6"/><circle cx="812.8" cy="190.0" r="0.5" fill="#45205a"/><circle cx="826.8" cy="213.2" r="0.5" fill="#d6b8e6"/><circle cx="814.9" cy="204.0" r="0.5" fill="#45205a"/><circle cx="799.7" cy="187.3" r="1.0" fill="#45205a"/><circle cx="800.1" cy="184.9" r="0.6" fill="#d6b8e6"/><circle cx="833.7" cy="191.0" r="1.2" fill="#45205a"/><circle cx="816.2" cy="188.5" r="1.2" fill="#45205a"/><circle cx="807.6" cy="202.3" r="0.9" fill="#45205a"/><circle cx="810.3" cy="201.3" r="0.7" fill="#45205a"/><circle cx="815.8" cy="193.8" r="1.1" fill="#45205a"/><circle cx="824.2" cy="183.5" r="0.8" fill="#d6b8e6"/><circle cx="802.3" cy="217.7" r="1.0" fill="#45205a"/><circle cx="819.7" cy="183.2" r="0.5" fill="#45205a"/><circle cx="837.8" cy="180.0" r="1.1" fill="#d6b8e6"/><circle cx="792.1" cy="199.0" r="1.3" fill="#45205a"/><circle cx="805.1" cy="213.9" r="1.2" fill="#45205a"/><circle cx="791.7" cy="215.7" r="0.9" fill="#d6b8e6"/><circle cx="819.1" cy="183.6" r="0.7" fill="#45205a"/><circle cx="805.3" cy="198.4" r="0.8" fill="#45205a"/><circle cx="829.3" cy="181.1" r="0.9" fill="#45205a"/><circle cx="809.8" cy="210.1" r="1.0" fill="#d6b8e6"/><circle cx="799.0" cy="205.6" r="0.8" fill="#d6b8e6"/><circle cx="820.0" cy="190.3" r="0.8" fill="#d6b8e6"/><circle cx="828.0" cy="188.3" r="1.1" fill="#d6b8e6"/><circle cx="821.5" cy="210.7" r="1.2" fill="#d6b8e6"/><circle cx="791.9" cy="208.5" r="0.6" fill="#45205a"/><circle cx="800.3" cy="183.5" r="0.8" fill="#d6b8e6"/><circle cx="812.9" cy="200.6" r="1.1" fill="#45205a"/><circle cx="837.7" cy="194.5" r="0.8" fill="#d6b8e6"/><circle cx="787.0" cy="195.2" r="1.3" fill="#45205a"/><circle cx="835.7" cy="207.7" r="0.5" fill="#45205a"/><circle cx="806.9" cy="192.4" r="0.6" fill="#45205a"/><circle cx="809.8" cy="200.4" r="1.2" fill="#45205a"/><circle cx="824.5" cy="183.6" r="1.2" fill="#45205a"/><circle cx="820.5" cy="192.9" r="0.6" fill="#45205a"/><circle cx="818.5" cy="210.3" r="0.7" fill="#45205a"/><circle cx="801.4" cy="203.7" r="0.8" fill="#45205a"/><circle cx="844.5" cy="193.3" r="0.6" fill="#45205a"/><circle cx="843.0" cy="202.1" r="0.9" fill="#45205a"/><circle cx="802.7" cy="219.6" r="1.2" fill="#45205a"/><circle cx="823.9" cy="181.9" r="0.7" fill="#45205a"/><circle cx="842.5" cy="187.6" r="1.2" fill="#45205a"/><circle cx="797.7" cy="202.3" r="0.5" fill="#d6b8e6"/><circle cx="805.4" cy="208.2" r="0.8" fill="#45205a"/><circle cx="810.3" cy="203.3" r="0.9" fill="#d6b8e6"/><circle cx="802.6" cy="203.3" r="1.0" fill="#d6b8e6"/><circle cx="788.4" cy="208.2" r="1.3" fill="#d6b8e6"/><circle cx="823.8" cy="198.6" r="1.0" fill="#45205a"/><circle cx="829.4" cy="212.4" r="0.9" fill="#45205a"/><circle cx="839.9" cy="195.6" r="1.0" fill="#45205a"/><circle cx="843.0" cy="201.2" r="0.8" fill="#45205a"/><circle cx="843.0" cy="191.4" r="1.1" fill="#d6b8e6"/><circle cx="823.6" cy="212.1" r="1.0" fill="#d6b8e6"/><circle cx="814.2" cy="200.1" r="0.5" fill="#45205a"/><circle cx="829.8" cy="201.3" r="0.7" fill="#d6b8e6"/><circle cx="840.6" cy="196.2" r="0.7" fill="#45205a"/><circle cx="833.0" cy="203.2" r="0.6" fill="#45205a"/><circle cx="835.9" cy="181.9" r="1.3" fill="#45205a"/><circle cx="804.9" cy="191.6" r="1.2" fill="#d6b8e6"/><circle cx="837.4" cy="195.1" r="1.0" fill="#45205a"/><circle cx="842.6" cy="190.8" r="1.2" fill="#45205a"/><circle cx="847.6" cy="198.7" r="0.7" fill="#d6b8e6"/><circle cx="798.3" cy="216.2" r="0.9" fill="#45205a"/><circle cx="796.8" cy="218.2" r="0.7" fill="#45205a"/><circle cx="825.8" cy="185.2" r="0.5" fill="#45205a"/><circle cx="792.7" cy="210.8" r="1.2" fill="#d6b8e6"/><circle cx="794.5" cy="209.4" r="0.9" fill="#45205a"/><circle cx="805.4" cy="210.1" r="0.6" fill="#d6b8e6"/><circle cx="800.8" cy="207.9" r="0.8" fill="#45205a"/><circle cx="823.2" cy="187.0" r="1.2" fill="#d6b8e6"/><circle cx="828.0" cy="189.3" r="0.6" fill="#45205a"/><circle cx="847.9" cy="197.1" r="0.9" fill="#45205a"/><circle cx="788.9" cy="204.8" r="0.7" fill="#d6b8e6"/><circle cx="836.6" cy="180.2" r="1.1" fill="#d6b8e6"/><circle cx="801.5" cy="189.4" r="0.6" fill="#45205a"/><circle cx="788.1" cy="198.2" r="0.8" fill="#45205a"/><circle cx="844.5" cy="200.0" r="0.9" fill="#d6b8e6"/><circle cx="826.6" cy="193.3" r="1.1" fill="#45205a"/><circle cx="818.6" cy="200.3" r="1.0" fill="#45205a"/><circle cx="797.0" cy="213.4" r="1.0" fill="#d6b8e6"/><circle cx="800.8" cy="197.1" r="1.1" fill="#45205a"/><circle cx="835.8" cy="187.3" r="0.7" fill="#45205a"/><circle cx="822.5" cy="200.0" r="1.0" fill="#d6b8e6"/><circle cx="831.0" cy="203.5" r="0.6" fill="#45205a"/></g>
<path d="M964.6,196.7 C965.4,198.6 963.7,202.1 961.4,203.0 C959.0,203.9 953.2,202.3 950.4,202.3 C947.6,202.3 947.1,202.6 944.5,203.0 C941.9,203.5 937.6,205.5 935.1,205.0 C932.6,204.4 930.7,201.5 929.5,199.6 C928.4,197.7 927.6,195.2 928.3,193.5 C929.0,191.8 932.1,190.8 933.7,189.3 C935.3,187.8 935.8,185.6 937.9,184.7 C939.9,183.8 943.5,183.7 946.2,183.9 C948.9,184.2 952.4,184.9 954.1,186.2 C955.8,187.5 954.6,190.0 956.4,191.7 C958.1,193.5 963.8,194.8 964.6,196.7 Z" fill="#cde6ef" stroke="#6a7a88" stroke-width="1.1"/>
<path d="M938.2,193 C942.2,189 949.2,190 952.2,194" fill="none" stroke="#7a9aaa" stroke-width="0.8"/>
<path d="M999.8,205.4 C1000.0,207.3 998.4,209.4 996.7,210.7 C994.9,212.0 992.1,212.8 989.3,213.2 C986.5,213.5 982.8,213.7 980.0,212.8 C977.1,211.8 974.7,209.3 972.5,207.4 C970.2,205.5 966.1,203.1 966.2,201.3 C966.3,199.6 972.0,198.4 973.1,196.8 C974.3,195.1 972.2,193.0 973.1,191.3 C973.9,189.6 975.9,186.8 978.3,186.5 C980.7,186.2 984.5,188.5 987.5,189.5 C990.5,190.5 995.2,190.9 996.5,192.6 C997.8,194.3 994.7,197.5 995.3,199.6 C995.8,201.8 999.5,203.6 999.8,205.4 Z" fill="#cde6ef" stroke="#6a7a88" stroke-width="1.1"/>
<path d="M977,198.3 C981,194.3 988,195.3 991,199.3" fill="none" stroke="#7a9aaa" stroke-width="0.8"/>
<path d="M939.9,219.7 C940.0,221.5 938.9,223.9 937.4,225.3 C935.9,226.8 932.9,226.9 930.7,228.5 C928.6,230.1 926.7,234.9 924.5,235.0 C922.4,235.1 920.4,230.0 917.8,228.9 C915.2,227.8 911.6,229.2 909.1,228.2 C906.6,227.2 902.2,224.7 902.6,223.0 C903.0,221.3 909.8,219.7 911.7,217.8 C913.5,215.9 911.9,213.2 913.7,211.7 C915.4,210.3 919.7,208.7 922.2,209.0 C924.8,209.3 926.6,212.3 928.9,213.3 C931.3,214.2 934.7,213.6 936.5,214.7 C938.3,215.7 939.7,218.0 939.9,219.7 Z" fill="#cde6ef" stroke="#6a7a88" stroke-width="1.1"/>
<path d="M916.3,219.2 C920.3,215.2 927.3,216.2 930.3,220.2" fill="none" stroke="#7a9aaa" stroke-width="0.8"/>
<path d="M1008.8,229.3 C1009.7,231.7 1011.5,235.0 1011.3,237.5 C1011.1,240.0 1009.3,242.5 1007.8,244.5 C1006.3,246.4 1004.1,249.5 1002.2,249.3 C1000.3,249.0 998.0,244.4 996.3,242.7 C994.5,241.0 992.9,240.6 991.8,238.9 C990.8,237.3 990.3,234.8 989.9,232.6 C989.5,230.4 989.6,228.6 989.6,226.0 C989.6,223.4 988.7,218.4 990.0,217.2 C991.2,216.0 994.8,219.0 996.9,218.9 C998.9,218.8 1000.9,215.8 1002.4,216.5 C1003.9,217.2 1005.0,221.0 1006.1,223.1 C1007.2,225.3 1007.9,226.9 1008.8,229.3 Z" fill="#cde6ef" stroke="#6a7a88" stroke-width="1.1"/>
<path d="M992,229 C996,225 1003,226 1006,230" fill="none" stroke="#7a9aaa" stroke-width="0.8"/>
<ellipse cx="793.8" cy="328.2" rx="38.5" ry="38.8" fill="#f8dfe2" stroke="#5a5a5a" stroke-width="1.1"/>
<ellipse cx="793.8" cy="328.2" rx="35" ry="35.3" fill="none" stroke="#fcefef" stroke-width="2.5"/>
<g fill="#8fcbe8" ><circle cx="807.7" cy="347.5" r="1.25"/><circle cx="767.9" cy="339.3" r="1.08"/><circle cx="801.2" cy="304.6" r="1.54"/><circle cx="767.3" cy="315.8" r="1.45"/><circle cx="795.7" cy="353.3" r="1.12"/><circle cx="819.9" cy="335.1" r="1.33"/><circle cx="767.6" cy="323.8" r="1.31"/><circle cx="820.6" cy="344.6" r="1.02"/><circle cx="793.0" cy="353.5" r="1.38"/><circle cx="809.0" cy="300.7" r="0.94"/><circle cx="770.5" cy="342.6" r="1.05"/><circle cx="817.6" cy="323.5" r="1.24"/><circle cx="796.1" cy="295.2" r="1.00"/><circle cx="764.1" cy="336.6" r="0.93"/><circle cx="795.7" cy="360.1" r="1.00"/><circle cx="772.8" cy="344.7" r="1.20"/><circle cx="815.2" cy="339.2" r="1.60"/><circle cx="796.4" cy="297.3" r="1.06"/><circle cx="793.2" cy="357.2" r="1.07"/><circle cx="762.3" cy="335.8" r="1.15"/><circle cx="776.7" cy="356.1" r="1.33"/><circle cx="820.8" cy="334.9" r="1.35"/></g>
<defs><clipPath id="bpclip"><circle cx="790" cy="332" r="22.8"/></clipPath></defs>
<circle cx="790" cy="332" r="22.8" fill="#ad4288"/>
<g clip-path="url(#bpclip)"><path d="M801,313 C811,326 809,344 795,349 C785,352 776,350 768,344 L770,370 L830,370 L830,300 Z" fill="#861a68"/><path d="M769,334 C769,322 775,314 784,311" fill="none" stroke="#c87aaa" stroke-width="2"/></g>
<circle cx="790" cy="332" r="22.8" fill="none" stroke="#4a2040" stroke-width="1"/>
<circle cx="771" cy="313" r="1.6" fill="#fff"/><circle cx="774" cy="311" r="1" fill="#fff"/>
<g fill="#9ad6f0" ><circle cx="796.2" cy="333.9" r="1.18"/><circle cx="795.6" cy="322.9" r="1.25"/><circle cx="778.9" cy="333.0" r="1.24"/><circle cx="778.3" cy="339.4" r="0.99"/><circle cx="784.3" cy="335.9" r="1.12"/><circle cx="791.5" cy="336.4" r="0.99"/></g>
<ellipse cx="977" cy="328" rx="39.5" ry="39.7" fill="#f8dde1" stroke="#5a5a5a" stroke-width="1.1"/>
<ellipse cx="977" cy="328" rx="36" ry="36" fill="none" stroke="#fcecee" stroke-width="3"/>
<defs><clipPath id="bgclip"><path d="M954.3,305.7 C956,303 962,301.5 966.7,301.5 C969,304 968.5,310 966.7,313.9 C964,317 961,320 960,325 C964,327 970,329 973,333 C976,337 976,341 977,343 C980,341 984,339 987,338.5 C990,337.5 992,335 991,331 C991,326 995,322 1000,322.5 C1004,324 1005,330 1002,334 C1000,337 1002,340 1004,344 C1005,350 1002,356 995,358 C988,359 982,358 980,354 C978,350 977,347 975,347 C972,349 968,351 962,351 C955,350 950,345 949,338 C949,333 953,328 956,326 C958,322 957,317 955.7,312.5 C955,310 953.5,308 954.3,305.7 Z"/></clipPath></defs>
<path d="M954.3,305.7 C956,303 962,301.5 966.7,301.5 C969,304 968.5,310 966.7,313.9 C964,317 961,320 960,325 C964,327 970,329 973,333 C976,337 976,341 977,343 C980,341 984,339 987,338.5 C990,337.5 992,335 991,331 C991,326 995,322 1000,322.5 C1004,324 1005,330 1002,334 C1000,337 1002,340 1004,344 C1005,350 1002,356 995,358 C988,359 982,358 980,354 C978,350 977,347 975,347 C972,349 968,351 962,351 C955,350 950,345 949,338 C949,333 953,328 956,326 C958,322 957,317 955.7,312.5 C955,310 953.5,308 954.3,305.7 Z" fill="#a4447f"/>
<g clip-path="url(#bgclip)"><path d="M948,340 C952,348 960,352 968,350 C972,349 975,347 977,347 C980,352 986,357 996,356 C1002,354 1005,348 1004,342 L1010,370 L940,370 Z" fill="#7c1e5e"/></g>
<path d="M954.3,305.7 C956,303 962,301.5 966.7,301.5 C969,304 968.5,310 966.7,313.9 C964,317 961,320 960,325 C964,327 970,329 973,333 C976,337 976,341 977,343 C980,341 984,339 987,338.5 C990,337.5 992,335 991,331 C991,326 995,322 1000,322.5 C1004,324 1005,330 1002,334 C1000,337 1002,340 1004,344 C1005,350 1002,356 995,358 C988,359 982,358 980,354 C978,350 977,347 975,347 C972,349 968,351 962,351 C955,350 950,345 949,338 C949,333 953,328 956,326 C958,322 957,317 955.7,312.5 C955,310 953.5,308 954.3,305.7 Z" fill="none" stroke="#5a1a48" stroke-width="0.9"/>
<circle cx="958" cy="302" r="3.2" fill="#fff"/><circle cx="964" cy="300.5" r="2" fill="#fff"/>
<g fill="#9ed4ef" stroke="#4d9fd0" stroke-width="0.5"><circle cx="958.0" cy="331.9" r="1.4"/><circle cx="1005.8" cy="326.8" r="1.8"/><circle cx="983.1" cy="348.8" r="1.0"/><circle cx="969.4" cy="308.3" r="1.2"/><circle cx="991.8" cy="329.7" r="1.2"/><circle cx="950.7" cy="349.0" r="1.7"/><circle cx="974.5" cy="348.9" r="1.1"/><circle cx="996.4" cy="319.9" r="1.7"/><circle cx="971.5" cy="295.1" r="0.9"/><circle cx="967.5" cy="347.5" r="1.0"/><circle cx="991.8" cy="314.6" r="1.7"/><circle cx="968.9" cy="327.0" r="1.3"/><circle cx="977.5" cy="335.1" r="1.1"/><circle cx="971.8" cy="324.5" r="1.2"/><circle cx="954.1" cy="339.9" r="1.0"/><circle cx="972.2" cy="310.8" r="1.7"/><circle cx="970.3" cy="316.4" r="1.1"/><circle cx="971.4" cy="357.0" r="1.3"/><circle cx="952.4" cy="349.3" r="1.1"/><circle cx="971.6" cy="347.8" r="1.1"/><circle cx="982.3" cy="329.4" r="1.6"/><circle cx="948.2" cy="315.3" r="2.0"/><circle cx="968.5" cy="355.4" r="1.9"/><circle cx="983.1" cy="356.4" r="1.6"/><circle cx="1008.3" cy="318.9" r="1.2"/><circle cx="969.9" cy="320.2" r="1.4"/><circle cx="970.3" cy="333.4" r="1.3"/><circle cx="965.4" cy="349.8" r="1.2"/><circle cx="989.1" cy="346.6" r="1.4"/><circle cx="991.3" cy="352.7" r="1.2"/><circle cx="994.1" cy="339.3" r="1.4"/><circle cx="992.6" cy="349.7" r="1.7"/><circle cx="949.3" cy="318.4" r="0.9"/><circle cx="960.6" cy="341.3" r="1.0"/><circle cx="970.3" cy="332.6" r="1.4"/><circle cx="956.4" cy="315.7" r="1.3"/><circle cx="976.9" cy="333.4" r="1.3"/><circle cx="997.5" cy="311.4" r="1.2"/><circle cx="969.6" cy="314.9" r="1.4"/><circle cx="951.4" cy="305.3" r="1.3"/><circle cx="946.8" cy="312.4" r="1.7"/><circle cx="957.8" cy="308.2" r="1.4"/><circle cx="961.1" cy="337.3" r="1.8"/><circle cx="992.7" cy="313.2" r="1.9"/><circle cx="989.5" cy="331.1" r="1.5"/><circle cx="969.4" cy="347.6" r="2.0"/><circle cx="986.0" cy="340.4" r="1.2"/><circle cx="969.8" cy="312.7" r="0.9"/><circle cx="955.9" cy="322.0" r="1.2"/><circle cx="948.8" cy="329.1" r="1.5"/><circle cx="958.4" cy="309.5" r="1.8"/><circle cx="996.8" cy="324.1" r="1.3"/><circle cx="991.8" cy="315.2" r="1.7"/><circle cx="967.2" cy="300.7" r="2.0"/><circle cx="983.3" cy="315.5" r="1.6"/><circle cx="950.8" cy="329.5" r="1.3"/><circle cx="970.3" cy="357.5" r="1.5"/><circle cx="978.4" cy="345.4" r="1.3"/><circle cx="988.0" cy="350.5" r="1.0"/><circle cx="985.5" cy="331.5" r="1.0"/></g>
<circle cx="652.7" cy="434.3" r="39" fill="#f6d4d9" stroke="#666" stroke-width="1.1"/>
<circle cx="652.7" cy="434.3" r="36" fill="none" stroke="#f2c6ce" stroke-width="3"/>
<circle cx="652.7" cy="434.3" r="32" fill="#f9e3e7"/>
<path d="M646,405 C657,404 666,407 670,414 C673,420 670,428 674,434 C680,440 683,448 679,455 C675,461 664,462 653,462 C642,462 633,458 629,450 C625,441 625,428 628,419 C632,410 638,406 646,405 Z" fill="#dd90a9" stroke="#9a6a7a" stroke-width="0.8"/>
<path d="M668,410 C672,420 669,428 674,434 C680,440 683,448 679,455 C675,461 664,462 656,462 C668,456 674,448 670,440 C664,430 668,420 668,410 Z" fill="#ca6890"/>
<circle cx="632" cy="408" r="3" fill="#fff"/><circle cx="637" cy="405" r="1.3" fill="#fff"/>
<g fill="#4aa0c0" ><circle cx="644.1" cy="404.8" r="1.03"/><circle cx="657.2" cy="402.1" r="0.88"/><circle cx="675.7" cy="408.7" r="0.83"/><circle cx="651.9" cy="467.0" r="1.20"/><circle cx="626.4" cy="455.4" r="0.93"/><circle cx="645.9" cy="403.2" r="0.97"/><circle cx="654.7" cy="400.1" r="1.21"/><circle cx="623.3" cy="421.0" r="1.15"/><circle cx="628.2" cy="410.4" r="1.20"/><circle cx="675.3" cy="457.0" r="1.13"/><circle cx="656.4" cy="465.1" r="0.81"/><circle cx="622.9" cy="416.5" r="1.29"/><circle cx="675.1" cy="459.3" r="1.01"/><circle cx="630.9" cy="410.7" r="1.27"/><circle cx="683.0" cy="432.2" r="1.16"/><circle cx="675.0" cy="454.8" r="0.94"/></g>
<ellipse cx="648" cy="413" rx="2.3" ry="1.8" fill="#c6e4ef"/><ellipse cx="648" cy="413" rx="1.3" ry="1" fill="#2f8aa8"/><ellipse cx="660" cy="418" rx="2.3" ry="1.8" fill="#c6e4ef"/><ellipse cx="660" cy="418" rx="1.3" ry="1" fill="#2f8aa8"/><ellipse cx="636" cy="422" rx="2.3" ry="1.8" fill="#c6e4ef"/><ellipse cx="636" cy="422" rx="1.3" ry="1" fill="#2f8aa8"/><ellipse cx="652" cy="425" rx="2.3" ry="1.8" fill="#c6e4ef"/><ellipse cx="652" cy="425" rx="1.3" ry="1" fill="#2f8aa8"/><ellipse cx="666" cy="430" rx="2.3" ry="1.8" fill="#c6e4ef"/><ellipse cx="666" cy="430" rx="1.3" ry="1" fill="#2f8aa8"/><ellipse cx="641" cy="437" rx="2.3" ry="1.8" fill="#c6e4ef"/><ellipse cx="641" cy="437" rx="1.3" ry="1" fill="#2f8aa8"/><ellipse cx="657" cy="436" rx="2.3" ry="1.8" fill="#c6e4ef"/><ellipse cx="657" cy="436" rx="1.3" ry="1" fill="#2f8aa8"/><ellipse cx="645" cy="449" rx="2.3" ry="1.8" fill="#c6e4ef"/><ellipse cx="645" cy="449" rx="1.3" ry="1" fill="#2f8aa8"/><ellipse cx="661" cy="446" rx="2.3" ry="1.8" fill="#c6e4ef"/><ellipse cx="661" cy="446" rx="1.3" ry="1" fill="#2f8aa8"/><ellipse cx="673" cy="446" rx="2.3" ry="1.8" fill="#c6e4ef"/><ellipse cx="673" cy="446" rx="1.3" ry="1" fill="#2f8aa8"/><ellipse cx="654" cy="456" rx="2.3" ry="1.8" fill="#c6e4ef"/><ellipse cx="654" cy="456" rx="1.3" ry="1" fill="#2f8aa8"/><ellipse cx="636" cy="448" rx="2.3" ry="1.8" fill="#c6e4ef"/><ellipse cx="636" cy="448" rx="1.3" ry="1" fill="#2f8aa8"/><ellipse cx="630" cy="432" rx="2.3" ry="1.8" fill="#c6e4ef"/><ellipse cx="630" cy="432" rx="1.3" ry="1" fill="#2f8aa8"/>
<circle cx="796.8" cy="441" r="38.5" fill="#fbe2d8" stroke="#6a6a6a" stroke-width="1.1"/>
<circle cx="796.8" cy="441" r="35" fill="none" stroke="#f6d0c0" stroke-width="3"/>
<path d="M822,414 C836,428 838,456 822,472 C812,480 798,481 786,478 C808,476 826,462 828,440 C829,430 826,420 822,414 Z" fill="#f5cbbd" opacity="0.6"/>
<g fill="#ef8a6a" ><circle cx="792.8" cy="407.3" r="0.65"/><circle cx="784.9" cy="462.7" r="0.82"/><circle cx="768.6" cy="444.0" r="0.72"/><circle cx="807.0" cy="410.0" r="0.71"/><circle cx="772.9" cy="460.3" r="0.91"/><circle cx="825.2" cy="437.6" r="0.88"/><circle cx="765.8" cy="431.8" r="0.66"/><circle cx="808.4" cy="463.9" r="0.97"/><circle cx="796.5" cy="470.5" r="0.65"/><circle cx="785.8" cy="463.1" r="0.83"/><circle cx="815.9" cy="465.2" r="0.71"/><circle cx="800.9" cy="470.2" r="0.75"/><circle cx="795.3" cy="466.0" r="0.63"/><circle cx="818.5" cy="423.7" r="0.63"/><circle cx="808.9" cy="467.9" r="1.00"/><circle cx="806.5" cy="472.4" r="0.79"/><circle cx="769.0" cy="457.6" r="0.76"/><circle cx="824.9" cy="451.7" r="0.86"/><circle cx="777.2" cy="421.8" r="0.98"/><circle cx="819.2" cy="415.5" r="0.78"/><circle cx="812.7" cy="413.6" r="0.67"/><circle cx="822.8" cy="445.4" r="0.65"/><circle cx="822.0" cy="453.8" r="0.90"/><circle cx="785.8" cy="468.7" r="0.60"/><circle cx="805.1" cy="473.6" r="0.60"/><circle cx="764.9" cy="435.5" r="0.92"/></g>
<path d="M783,411 C795,409 805,411 808,416 C812,423 811,432 813,440 C815,447 819,452 818,460 C817,468 810,472 801,472.5 C791,473 781,469 776,461 C771,452 771,440 771.5,428 C772,418 776,412 783,411 Z" fill="#dc84a4" stroke="#6a5058" stroke-width="1"/>
<path d="M809,428 C811,440 818,450 818,460 C817,468 810,472 801,472.5 C809,467 814,459 813,450 C812,442 809,436 809,428 Z" fill="#c4527f"/>
<path d="M776,456 C773,444 773,430 777,420" fill="none" stroke="#ebb2c6" stroke-width="3"/>
<circle cx="778" cy="419" r="3.2" fill="#fff"/><circle cx="783" cy="415" r="1.3" fill="#fff"/>
<g fill="#f6b49a" ><circle cx="791.2" cy="428.2" r="0.74"/><circle cx="797.3" cy="425.0" r="0.80"/><circle cx="802.2" cy="454.7" r="0.62"/><circle cx="790.2" cy="431.4" r="0.77"/><circle cx="801.8" cy="444.5" r="0.57"/><circle cx="786.0" cy="450.6" r="0.70"/><circle cx="794.9" cy="429.7" r="0.69"/></g>
<g transform="rotate(-8 974 438)"><ellipse cx="974" cy="438.3" rx="37.8" ry="40.8" fill="#f8d9cd" stroke="#666" stroke-width="1.1"/></g>
<g fill="#e8503e" ><circle cx="963.4" cy="453.1" r="1.04"/><circle cx="969.6" cy="447.9" r="0.70"/><circle cx="973.2" cy="421.5" r="0.95"/><circle cx="947.9" cy="429.5" r="0.61"/><circle cx="983.8" cy="446.4" r="0.71"/><circle cx="971.1" cy="439.5" r="0.80"/><circle cx="958.6" cy="449.6" r="0.82"/><circle cx="988.3" cy="433.2" r="1.03"/><circle cx="961.7" cy="466.2" r="0.57"/><circle cx="995.6" cy="436.1" r="1.08"/><circle cx="978.0" cy="460.6" r="0.92"/><circle cx="981.6" cy="454.9" r="0.91"/><circle cx="991.7" cy="431.4" r="0.61"/><circle cx="953.5" cy="466.0" r="0.59"/><circle cx="960.6" cy="421.4" r="0.89"/><circle cx="980.1" cy="465.5" r="1.03"/><circle cx="990.2" cy="415.6" r="0.80"/><circle cx="963.8" cy="433.0" r="1.00"/><circle cx="965.8" cy="415.5" r="0.90"/><circle cx="956.1" cy="448.8" r="0.64"/><circle cx="953.9" cy="421.9" r="0.81"/><circle cx="999.6" cy="443.7" r="0.77"/><circle cx="952.8" cy="422.6" r="1.06"/><circle cx="987.1" cy="458.1" r="1.10"/><circle cx="972.6" cy="417.9" r="0.94"/><circle cx="994.9" cy="436.5" r="1.02"/><circle cx="997.0" cy="463.6" r="0.79"/><circle cx="977.0" cy="470.8" r="0.89"/><circle cx="1001.8" cy="425.5" r="0.98"/><circle cx="941.2" cy="435.4" r="0.54"/><circle cx="993.1" cy="415.9" r="0.65"/><circle cx="981.8" cy="415.3" r="0.82"/><circle cx="983.7" cy="426.1" r="0.67"/><circle cx="968.5" cy="430.3" r="0.83"/><circle cx="979.3" cy="413.5" r="0.65"/><circle cx="983.4" cy="406.3" r="0.96"/><circle cx="944.1" cy="427.6" r="0.98"/><circle cx="985.6" cy="455.8" r="0.56"/><circle cx="992.9" cy="442.9" r="1.02"/><circle cx="979.7" cy="427.3" r="0.61"/><circle cx="950.7" cy="459.4" r="0.87"/><circle cx="981.2" cy="432.4" r="1.09"/><circle cx="981.0" cy="465.5" r="1.03"/><circle cx="972.0" cy="422.2" r="0.90"/><circle cx="970.3" cy="439.9" r="0.70"/><circle cx="963.6" cy="464.2" r="0.67"/><circle cx="952.1" cy="419.9" r="0.61"/><circle cx="993.1" cy="459.6" r="0.78"/><circle cx="981.7" cy="446.9" r="1.06"/><circle cx="958.8" cy="424.3" r="0.62"/><circle cx="1001.4" cy="437.0" r="0.94"/><circle cx="962.3" cy="453.4" r="0.74"/><circle cx="989.9" cy="460.7" r="0.75"/><circle cx="983.0" cy="417.2" r="0.77"/><circle cx="942.0" cy="436.6" r="0.71"/><circle cx="969.4" cy="421.3" r="0.85"/><circle cx="967.3" cy="470.8" r="0.67"/><circle cx="990.6" cy="414.5" r="0.77"/><circle cx="992.8" cy="428.9" r="0.95"/><circle cx="956.2" cy="423.7" r="0.54"/><circle cx="958.7" cy="447.3" r="0.76"/><circle cx="991.1" cy="432.5" r="0.92"/><circle cx="966.3" cy="422.3" r="0.75"/><circle cx="995.1" cy="463.1" r="0.65"/><circle cx="957.1" cy="448.1" r="0.99"/><circle cx="988.9" cy="415.6" r="0.83"/><circle cx="999.3" cy="457.9" r="0.55"/><circle cx="960.8" cy="454.7" r="0.93"/><circle cx="964.6" cy="419.6" r="1.04"/><circle cx="978.8" cy="436.3" r="0.88"/><circle cx="954.5" cy="442.2" r="0.78"/><circle cx="963.1" cy="465.0" r="0.86"/><circle cx="1006.0" cy="431.4" r="1.10"/><circle cx="950.2" cy="458.1" r="0.89"/><circle cx="964.0" cy="403.7" r="0.54"/><circle cx="953.7" cy="443.4" r="0.89"/><circle cx="980.5" cy="473.1" r="0.63"/><circle cx="965.5" cy="447.9" r="0.74"/><circle cx="973.5" cy="427.6" r="0.60"/><circle cx="958.6" cy="415.1" r="0.95"/><circle cx="973.4" cy="470.4" r="0.94"/><circle cx="975.9" cy="425.7" r="0.78"/><circle cx="1004.4" cy="441.3" r="1.07"/><circle cx="978.1" cy="434.6" r="0.71"/><circle cx="950.5" cy="432.1" r="0.57"/><circle cx="978.4" cy="418.8" r="0.80"/><circle cx="991.6" cy="457.1" r="0.58"/><circle cx="994.1" cy="451.6" r="0.68"/><circle cx="976.8" cy="420.4" r="0.75"/><circle cx="988.5" cy="443.6" r="0.77"/><circle cx="953.1" cy="429.3" r="1.01"/><circle cx="998.1" cy="458.2" r="0.59"/><circle cx="997.5" cy="433.2" r="0.74"/><circle cx="950.6" cy="416.3" r="1.08"/><circle cx="971.1" cy="439.9" r="0.59"/><circle cx="985.8" cy="410.0" r="0.93"/><circle cx="987.3" cy="459.8" r="0.52"/><circle cx="987.9" cy="450.6" r="1.08"/><circle cx="955.1" cy="412.1" r="0.53"/><circle cx="966.0" cy="443.1" r="0.66"/><circle cx="998.2" cy="460.3" r="0.70"/><circle cx="947.4" cy="440.0" r="1.03"/><circle cx="997.5" cy="429.0" r="0.80"/><circle cx="991.1" cy="425.2" r="0.68"/><circle cx="972.9" cy="419.7" r="0.72"/><circle cx="953.4" cy="448.7" r="0.72"/><circle cx="953.9" cy="448.2" r="0.53"/><circle cx="978.2" cy="430.3" r="0.82"/><circle cx="954.1" cy="431.3" r="0.63"/><circle cx="990.3" cy="450.8" r="0.69"/></g>
<path d="M958,436 C963,440 968,443 976,444" fill="none" stroke="#c9559a" stroke-width="3.2"/>
<path d="M945,436 C950,441 950,446 947,451 L962,451 C957,446 956,441 958,436 Z" fill="#c9559a"/>
<ellipse cx="951.3" cy="430" rx="9.5" ry="9.6" fill="#c9559a"/>
<ellipse cx="955" cy="459" rx="11" ry="10" fill="#c9559a"/>
<path d="M983,417 C990,415 998,418 1001,425 C1004,433 1003,441 998,446 C993,451 985,452 978,450 C972,448 969,446 966,444 C970,442 972,442 975,441 C977,436 976,431 976,427 C976,422 978,418 983,417 Z" fill="#c9559a"/>
<path d="M1001,428 C1004,438 1000,447 990,451 C984,452 979,450 975,448 C985,447 996,442 1001,428 Z M945,466 C950,470 960,470 965,463 C963,468 955,472 948,469 Z" fill="#ad3474"/>
<path d="M979,425 C980,420 983,418 987,418 M945,428 C945,424 948,422 951,421" fill="none" stroke="#e08ab4" stroke-width="1.5"/>
<circle cx="982" cy="420" r="3.3" fill="#fff"/><circle cx="987" cy="417.5" r="1.5" fill="#fff"/>
<g fill="#ee6050" ><circle cx="984.7" cy="434.5" r="0.90"/><circle cx="988.2" cy="434.1" r="0.76"/><circle cx="989.7" cy="433.8" r="0.84"/><circle cx="994.3" cy="432.5" r="0.84"/><circle cx="985.6" cy="438.0" r="0.84"/><circle cx="984.7" cy="431.0" r="0.80"/></g>
<g fill="#ee6050" ><circle cx="949.0" cy="458.5" r="0.62"/><circle cx="957.9" cy="460.7" r="0.71"/><circle cx="956.3" cy="455.2" r="0.94"/><circle cx="951.9" cy="460.8" r="0.87"/><circle cx="961.0" cy="462.0" r="0.93"/></g>
<circle cx="796.4" cy="551.7" r="38.5" fill="#f9dbe0" stroke="#666" stroke-width="1.1"/>
<path d="M824,526 C838,542 836,570 818,582 C808,588 796,590 786,588 C808,582 826,566 828,546 C828,538 827,532 824,526 Z" fill="#f2b3c0"/>
<g fill="#ffffff" ><circle cx="783.5" cy="575.9" r="1.01"/><circle cx="803.7" cy="521.8" r="0.63"/><circle cx="798.5" cy="527.4" r="0.91"/><circle cx="764.8" cy="541.0" r="0.92"/><circle cx="829.5" cy="556.4" r="0.98"/><circle cx="775.5" cy="540.2" r="0.97"/><circle cx="769.3" cy="567.0" r="1.09"/><circle cx="817.8" cy="539.4" r="0.99"/><circle cx="766.8" cy="563.3" r="0.79"/><circle cx="769.2" cy="561.0" r="0.66"/><circle cx="783.0" cy="580.3" r="0.64"/><circle cx="820.7" cy="573.3" r="0.93"/><circle cx="772.4" cy="544.2" r="0.66"/><circle cx="784.0" cy="582.9" r="0.88"/><circle cx="819.6" cy="539.4" r="0.81"/><circle cx="764.7" cy="544.3" r="0.66"/></g>
<path d="M776,528 C782,524 792,524 800,530 C805,534 808,540 814,543 C821,547 824,556 820,566 C816,574 806,576 797,576 C786,576 776,572 771,563 C767,555 767,543 770,536 C772,531 774,529 776,528 Z" fill="#9d4563" stroke="#4a2030" stroke-width="1"/>
<path d="M814,543 C821,547 824,556 820,566 C816,574 806,576 797,576 C808,570 816,562 814,543 Z" fill="#7a1b42"/>
<circle cx="775" cy="530" r="2" fill="#fff"/><circle cx="779" cy="527" r="1.2" fill="#fff"/>
<g fill="#fff"><circle cx="784" cy="535" r="1.2"/><circle cx="795" cy="537" r="1.2"/><circle cx="777" cy="546" r="1.2"/><circle cx="785" cy="544" r="1.2"/><circle cx="800" cy="549" r="1.2"/><circle cx="812" cy="550" r="1.2"/><circle cx="777" cy="560" r="1.2"/><circle cx="789" cy="563" r="1.2"/><circle cx="802" cy="560" r="1.2"/><circle cx="797" cy="571" r="1.2"/><circle cx="803" cy="570" r="1.2"/><circle cx="819" cy="566" r="1.2"/></g>
<defs><clipPath id="ngclip"><path d="M977.7,511.2 C982.2,510.8 985.5,511.6 989.0,512.5 C992.5,513.5 995.8,514.5 998.6,516.9 C1001.4,519.3 1003.8,522.8 1006.0,527.0 C1008.2,531.2 1010.8,537.5 1012.0,542.3 C1013.2,547.1 1013.2,551.3 1013.0,556.0 C1012.8,560.7 1012.5,566.1 1010.5,570.6 C1008.5,575.1 1004.5,579.5 1001.0,583.0 C997.5,586.5 994.0,590.1 989.7,591.5 C985.4,592.9 980.0,592.0 975.0,591.5 C970.0,591.0 964.5,590.6 959.8,588.5 C955.1,586.4 950.7,582.5 947.0,579.0 C943.3,575.5 939.6,571.6 937.5,567.6 C935.4,563.6 934.8,559.2 934.5,555.0 C934.2,550.8 934.9,546.3 936.0,542.3 C937.1,538.3 938.8,534.2 941.0,531.0 C943.2,527.8 945.9,525.6 949.4,522.9 C952.9,520.2 957.3,517.0 962.0,515.0 C966.7,513.0 973.2,511.6 977.7,511.2 Z"/></clipPath></defs>
<path d="M977.7,511.2 C982.2,510.8 985.5,511.6 989.0,512.5 C992.5,513.5 995.8,514.5 998.6,516.9 C1001.4,519.3 1003.8,522.8 1006.0,527.0 C1008.2,531.2 1010.8,537.5 1012.0,542.3 C1013.2,547.1 1013.2,551.3 1013.0,556.0 C1012.8,560.7 1012.5,566.1 1010.5,570.6 C1008.5,575.1 1004.5,579.5 1001.0,583.0 C997.5,586.5 994.0,590.1 989.7,591.5 C985.4,592.9 980.0,592.0 975.0,591.5 C970.0,591.0 964.5,590.6 959.8,588.5 C955.1,586.4 950.7,582.5 947.0,579.0 C943.3,575.5 939.6,571.6 937.5,567.6 C935.4,563.6 934.8,559.2 934.5,555.0 C934.2,550.8 934.9,546.3 936.0,542.3 C937.1,538.3 938.8,534.2 941.0,531.0 C943.2,527.8 945.9,525.6 949.4,522.9 C952.9,520.2 957.3,517.0 962.0,515.0 C966.7,513.0 973.2,511.6 977.7,511.2 Z" fill="#f3ccd5"/>
<g clip-path="url(#ngclip)"><path d="M977.7,511.2 C982.2,510.8 985.5,511.6 989.0,512.5 C992.5,513.5 995.8,514.5 998.6,516.9 C1001.4,519.3 1003.8,522.8 1006.0,527.0 C1008.2,531.2 1010.8,537.5 1012.0,542.3 C1013.2,547.1 1013.2,551.3 1013.0,556.0 C1012.8,560.7 1012.5,566.1 1010.5,570.6 C1008.5,575.1 1004.5,579.5 1001.0,583.0 C997.5,586.5 994.0,590.1 989.7,591.5 C985.4,592.9 980.0,592.0 975.0,591.5 C970.0,591.0 964.5,590.6 959.8,588.5 C955.1,586.4 950.7,582.5 947.0,579.0 C943.3,575.5 939.6,571.6 937.5,567.6 C935.4,563.6 934.8,559.2 934.5,555.0 C934.2,550.8 934.9,546.3 936.0,542.3 C937.1,538.3 938.8,534.2 941.0,531.0 C943.2,527.8 945.9,525.6 949.4,522.9 C952.9,520.2 957.3,517.0 962.0,515.0 C966.7,513.0 973.2,511.6 977.7,511.2 Z" fill="none" stroke="#eeb2c0" stroke-width="9"/><path d="M977.7,511.2 C982.2,510.8 985.5,511.6 989.0,512.5 C992.5,513.5 995.8,514.5 998.6,516.9 C1001.4,519.3 1003.8,522.8 1006.0,527.0 C1008.2,531.2 1010.8,537.5 1012.0,542.3 C1013.2,547.1 1013.2,551.3 1013.0,556.0 C1012.8,560.7 1012.5,566.1 1010.5,570.6 C1008.5,575.1 1004.5,579.5 1001.0,583.0 C997.5,586.5 994.0,590.1 989.7,591.5 C985.4,592.9 980.0,592.0 975.0,591.5 C970.0,591.0 964.5,590.6 959.8,588.5 C955.1,586.4 950.7,582.5 947.0,579.0 C943.3,575.5 939.6,571.6 937.5,567.6 C935.4,563.6 934.8,559.2 934.5,555.0 C934.2,550.8 934.9,546.3 936.0,542.3 C937.1,538.3 938.8,534.2 941.0,531.0 C943.2,527.8 945.9,525.6 949.4,522.9 C952.9,520.2 957.3,517.0 962.0,515.0 C966.7,513.0 973.2,511.6 977.7,511.2 Z" fill="none" stroke="#f9e0e5" stroke-width="3.5"/><path d="M1004,522 C1016,544 1014,572 1002,584 C994,591 984,593 972,592" fill="none" stroke="#eb98ae" stroke-width="5"/></g>
<path d="M977.7,511.2 C982.2,510.8 985.5,511.6 989.0,512.5 C992.5,513.5 995.8,514.5 998.6,516.9 C1001.4,519.3 1003.8,522.8 1006.0,527.0 C1008.2,531.2 1010.8,537.5 1012.0,542.3 C1013.2,547.1 1013.2,551.3 1013.0,556.0 C1012.8,560.7 1012.5,566.1 1010.5,570.6 C1008.5,575.1 1004.5,579.5 1001.0,583.0 C997.5,586.5 994.0,590.1 989.7,591.5 C985.4,592.9 980.0,592.0 975.0,591.5 C970.0,591.0 964.5,590.6 959.8,588.5 C955.1,586.4 950.7,582.5 947.0,579.0 C943.3,575.5 939.6,571.6 937.5,567.6 C935.4,563.6 934.8,559.2 934.5,555.0 C934.2,550.8 934.9,546.3 936.0,542.3 C937.1,538.3 938.8,534.2 941.0,531.0 C943.2,527.8 945.9,525.6 949.4,522.9 C952.9,520.2 957.3,517.0 962.0,515.0 C966.7,513.0 973.2,511.6 977.7,511.2 Z" fill="none" stroke="#6a5a5e" stroke-width="1.1"/>
<g fill="#fbeef1" ><circle cx="989.9" cy="535.3" r="0.62"/><circle cx="955.5" cy="559.9" r="1.00"/><circle cx="994.9" cy="541.4" r="1.01"/><circle cx="951.8" cy="570.3" r="0.66"/><circle cx="973.4" cy="538.0" r="0.95"/><circle cx="979.8" cy="570.0" r="0.70"/><circle cx="959.1" cy="572.1" r="0.91"/><circle cx="954.9" cy="567.6" r="1.11"/><circle cx="958.1" cy="571.1" r="0.89"/><circle cx="992.8" cy="549.2" r="1.02"/><circle cx="975.7" cy="568.3" r="1.04"/><circle cx="959.1" cy="543.9" r="0.64"/><circle cx="983.2" cy="533.4" r="1.03"/><circle cx="950.3" cy="562.1" r="0.94"/><circle cx="1005.1" cy="546.7" r="0.87"/><circle cx="958.2" cy="552.8" r="1.05"/><circle cx="988.6" cy="562.5" r="1.11"/><circle cx="1000.9" cy="557.5" r="0.94"/><circle cx="955.9" cy="545.4" r="0.69"/><circle cx="1001.5" cy="542.7" r="1.08"/><circle cx="997.9" cy="568.3" r="0.73"/><circle cx="981.6" cy="574.4" r="0.97"/><circle cx="994.9" cy="571.4" r="0.95"/><circle cx="999.6" cy="532.8" r="1.01"/><circle cx="952.9" cy="575.8" r="1.03"/><circle cx="966.2" cy="581.1" r="1.04"/><circle cx="972.5" cy="567.9" r="0.61"/><circle cx="957.8" cy="547.7" r="0.78"/><circle cx="973.8" cy="563.5" r="0.89"/><circle cx="971.5" cy="568.9" r="0.77"/><circle cx="943.2" cy="549.7" r="0.70"/><circle cx="993.4" cy="527.9" r="0.97"/><circle cx="946.8" cy="543.8" r="0.92"/><circle cx="957.0" cy="524.8" r="1.07"/><circle cx="973.5" cy="559.2" r="1.16"/><circle cx="955.0" cy="573.7" r="0.74"/><circle cx="954.8" cy="557.4" r="1.04"/><circle cx="996.0" cy="543.4" r="0.94"/><circle cx="964.8" cy="564.4" r="1.17"/><circle cx="998.6" cy="571.9" r="0.99"/><circle cx="1002.2" cy="565.2" r="0.66"/><circle cx="963.5" cy="546.9" r="1.19"/><circle cx="962.8" cy="580.2" r="0.64"/><circle cx="969.7" cy="544.1" r="0.62"/><circle cx="944.5" cy="537.4" r="1.01"/></g>
<path d="M960,534 C965,532 970,531 974,532 M990,556 C993,560 994,565 992,569 M990,534 C990,538 990,540 989,543" fill="none" stroke="#8b2a4b" stroke-width="2"/>
<path d="M946,533 C950,530 957,531 962,533 C964,537 964,546 962,551 C959,555 953,555 948,553 C944,549 943,541 944,537 C944,535 945,534 946,533 Z" fill="#8b2a4b"/>
<path d="M974,528 C977,526 980,527 981,531 C982,536 981,541 977,542 C973,542 971,537 972,533 C972,530 973,529 974,528 Z" fill="#8b2a4b"/>
<path d="M983,521 C988,518 997,520 999,527 C1000,533 995,536 990,536 C985,536 981,527 983,521 Z" fill="#8b2a4b"/>
<path d="M987,534 L993,534 L992,544 L985,544 Z" fill="#8b2a4b"/>
<path d="M981,545 C985,541 995,540 999,544 C1001,549 997,556 991,558 C985,559 979,555 980,550 Z" fill="#8b2a4b"/>
<path d="M984,569 C989,566 998,567 1000,573 C1001,580 995,583 989,583 C983,583 981,575 984,569 Z" fill="#8b2a4b"/>
<circle cx="948" cy="533" r="2.3" fill="#fff"/><circle cx="952" cy="531" r="1.3" fill="#fff"/>
<line x1="168.7" y1="203.0" x2="265.0" y2="124.8" stroke="#1a6aba" stroke-width="3.2"/>
<polygon points="272.8,118.5 267.7,129.7 260.8,121.2" fill="#1a6aba"/>
<line x1="587.5" y1="98.9" x2="618.5" y2="74.8" stroke="#1a6aba" stroke-width="3.2"/>
<polygon points="626.4,68.7 621.1,79.8 614.3,71.1" fill="#1a6aba"/>
<line x1="594.3" y1="148.5" x2="623.0" y2="161.0" stroke="#1a6aba" stroke-width="3.2"/>
<polygon points="632.2,165.0 619.9,165.7 624.3,155.6" fill="#1a6aba"/>
<line x1="491.8" y1="191.3" x2="435.9" y2="230.1" stroke="#1a6aba" stroke-width="3.2"/>
<polygon points="427.7,235.8 433.6,225.0 439.9,234.0" fill="#1a6aba"/>
<line x1="586.2" y1="209.5" x2="635.1" y2="360.7" stroke="#1a6aba" stroke-width="3.2"/>
<polygon points="638.2,370.2 629.6,361.4 640.0,358.0" fill="#1a6aba"/>
<line x1="336.5" y1="317.3" x2="337.1" y2="379.6" stroke="#1a6aba" stroke-width="3.2"/>
<polygon points="337.2,389.6 331.6,378.7 342.6,378.5" fill="#1a6aba"/>
<line x1="727.0" y1="48.4" x2="750.0" y2="48.4" stroke="#1a6aba" stroke-width="3.2"/>
<polygon points="760.0,48.4 749.0,53.9 749.0,42.9" fill="#1a6aba"/>
<line x1="856.0" y1="49.4" x2="900.0" y2="49.4" stroke="#1a6aba" stroke-width="3.2"/>
<polygon points="910.0,49.4 899.0,54.9 899.0,43.9" fill="#1a6aba"/>
<line x1="738.0" y1="200.1" x2="751.8" y2="200.1" stroke="#1a6aba" stroke-width="3.2"/>
<polygon points="761.8,200.1 750.8,205.6 750.8,194.6" fill="#1a6aba"/>
<line x1="875.8" y1="200.1" x2="899.8" y2="200.1" stroke="#1a6aba" stroke-width="3.2"/>
<polygon points="909.8,200.1 898.8,205.6 898.8,194.6" fill="#1a6aba"/>
<line x1="687.8" y1="382.1" x2="734.7" y2="341.9" stroke="#1a6aba" stroke-width="3.2"/>
<polygon points="742.3,335.4 737.5,346.7 730.4,338.4" fill="#1a6aba"/>
<line x1="862.0" y1="326.7" x2="906.4" y2="326.7" stroke="#1a6aba" stroke-width="3.2"/>
<polygon points="916.4,326.7 905.4,332.2 905.4,321.2" fill="#1a6aba"/>
<line x1="699.0" y1="444.4" x2="742.8" y2="444.4" stroke="#1a6aba" stroke-width="3.2"/>
<polygon points="752.8,444.4 741.8,449.9 741.8,438.9" fill="#1a6aba"/>
<line x1="855.6" y1="440.2" x2="900.6" y2="440.2" stroke="#1a6aba" stroke-width="3.2"/>
<polygon points="910.6,440.2 899.6,445.7 899.6,434.7" fill="#1a6aba"/>
<line x1="691.7" y1="483.8" x2="732.6" y2="533.9" stroke="#1a6aba" stroke-width="3.2"/>
<polygon points="738.9,541.7 727.7,536.6 736.2,529.7" fill="#1a6aba"/>
<line x1="856.4" y1="555.0" x2="901.0" y2="554.9" stroke="#1a6aba" stroke-width="3.2"/>
<polygon points="911.0,554.9 900.0,560.4 900.0,549.4" fill="#1a6aba"/>
<g transform="translate(466.3,211.8) rotate(-8)"><path d="M-3.3,-11 L3.3,-11 L3.3,-3.3 L11,-3.3 L11,3.3 L3.3,3.3 L3.3,11 L-3.3,11 L-3.3,3.3 L-11,3.3 L-11,-3.3 L-3.3,-3.3 Z" fill="#e8141f" stroke="#5a3050" stroke-width="1"/></g>
<text x="639.3" y="112.6" font-size="16.5" fill="#2774bd" stroke="#2774bd" stroke-width="0.3" font-weight="normal" textLength="77.6" lengthAdjust="spacingAndGlyphs">Monoblast</text>
<text x="770.3" y="112.2" font-size="16.5" fill="#2774bd" stroke="#2774bd" stroke-width="0.3" font-weight="normal" textLength="71.7" lengthAdjust="spacingAndGlyphs">Monocyte</text>
<text x="922" y="111.8" font-size="16.5" fill="#2774bd" stroke="#2774bd" stroke-width="0.3" font-weight="normal" textLength="92.8" lengthAdjust="spacingAndGlyphs">Macrophage</text>
<text x="628" y="268.2" font-size="16.5" fill="#2774bd" stroke="#2774bd" stroke-width="0.3" font-weight="normal" textLength="116.8" lengthAdjust="spacingAndGlyphs">Megakaryoblast</text>
<text x="762.3" y="267" font-size="16.5" fill="#2774bd" stroke="#2774bd" stroke-width="0.3" font-weight="normal" textLength="111.2" lengthAdjust="spacingAndGlyphs">Megakaryocyte</text>
<text x="919.4" y="268" font-size="16.5" fill="#2774bd" stroke="#2774bd" stroke-width="0.3" font-weight="normal" textLength="64.2" lengthAdjust="spacingAndGlyphs">Platelets</text>
<text x="720.9" y="389" font-size="16.5" fill="#2774bd" stroke="#2774bd" stroke-width="0.3" font-weight="normal" textLength="145.9" lengthAdjust="spacingAndGlyphs">Basophil progenitor</text>
<text x="897.9" y="389" font-size="16.5" fill="#2774bd" stroke="#2774bd" stroke-width="0.3" font-weight="normal" textLength="154.7" lengthAdjust="spacingAndGlyphs">Basophil granulocyte</text>
<text x="609.5" y="502.8" font-size="16.5" fill="#2774bd" stroke="#2774bd" stroke-width="0.3" font-weight="normal" textLength="80.1" lengthAdjust="spacingAndGlyphs">Myeloblast</text>
<text x="717.5" y="498" font-size="16.5" fill="#2774bd" stroke="#2774bd" stroke-width="0.3" font-weight="normal" textLength="158.5" lengthAdjust="spacingAndGlyphs">Eosinophil progenitor</text>
<text x="893" y="498" font-size="16.5" fill="#2774bd" stroke="#2774bd" stroke-width="0.3" font-weight="normal" textLength="168.3" lengthAdjust="spacingAndGlyphs">Eosinophil granulocyte</text>
<text x="718" y="611" font-size="16.5" fill="#2774bd" stroke="#2774bd" stroke-width="0.3" font-weight="normal" textLength="157.4" lengthAdjust="spacingAndGlyphs">Neutrophil progenitor</text>
<text x="891.8" y="611.6" font-size="16.5" fill="#2774bd" stroke="#2774bd" stroke-width="0.3" font-weight="normal" textLength="167.4" lengthAdjust="spacingAndGlyphs">Neutrophil granulocyte</text>
<text x="501.5" y="174.5" font-size="16.5" fill="#5893cf" stroke="#5893cf" stroke-width="0.3" font-weight="normal" textLength="106" lengthAdjust="spacingAndGlyphs">Mesenchymal</text>
<text x="501.5" y="195" font-size="16.5" fill="#5893cf" stroke="#5893cf" stroke-width="0.3" font-weight="normal" textLength="78.3" lengthAdjust="spacingAndGlyphs">Stem Cells</text>
<text x="215.2" y="303.8" font-size="16" fill="#1c1c1c" stroke="#1c1c1c" stroke-width="0.3" textLength="70.5" lengthAdjust="spacingAndGlyphs">Epithelial</text>
<text x="286.8" y="303.8" font-size="16" fill="#1c1c1c" stroke="#1c1c1c" stroke-width="0.3" textLength="5" lengthAdjust="spacingAndGlyphs">-</text>
<text x="294.8" y="303.8" font-size="16" fill="#1c1c1c" stroke="#1c1c1c" stroke-width="0.3" textLength="15.2" lengthAdjust="spacingAndGlyphs">to</text>
<text x="311.6" y="303.8" font-size="16" fill="#1c1c1c" stroke="#1c1c1c" stroke-width="0.3" textLength="5" lengthAdjust="spacingAndGlyphs">-</text>
<text x="320" y="303.8" font-size="16" fill="#1c1c1c" stroke="#1c1c1c" stroke-width="0.3" textLength="104.2" lengthAdjust="spacingAndGlyphs">Mesenchymal</text>
<text x="425.6" y="303.8" font-size="16" fill="#1c1c1c" stroke="#1c1c1c" stroke-width="0.3" textLength="78.3" lengthAdjust="spacingAndGlyphs">Transition</text>
<text x="515.4" y="303.8" font-size="16" fill="#1c1c1c" stroke="#1c1c1c" stroke-width="0.3" textLength="47" lengthAdjust="spacingAndGlyphs">(EMT)</text>
<text x="206.8" y="548.4" font-size="16" fill="#1c1c1c" stroke="#1c1c1c" stroke-width="0.3" textLength="94" lengthAdjust="spacingAndGlyphs">Extracellular</text>
<text x="304.5" y="548.4" font-size="16" fill="#1c1c1c" stroke="#1c1c1c" stroke-width="0.3" textLength="51.5" lengthAdjust="spacingAndGlyphs">Matrix</text>
<text x="366.8" y="548.4" font-size="16" fill="#1c1c1c" stroke="#1c1c1c" stroke-width="0.3" textLength="47" lengthAdjust="spacingAndGlyphs">(ECM)</text>
<text x="427.5" y="548.4" font-size="16" fill="#1c1c1c" stroke="#1c1c1c" stroke-width="0.3" textLength="81.2" lengthAdjust="spacingAndGlyphs">deposition</text>
<g transform="translate(562.5,59) rotate(-36)" fill="#111">
<text x="0" y="0" font-family="Liberation Serif" font-size="14" textLength="31" lengthAdjust="spacingAndGlyphs">PGE2</text>
<line x1="34" y1="-3" x2="35" y2="0.5" stroke="#111" stroke-width="1.3"/>
<text x="41" y="0" font-weight="bold" font-size="13" textLength="35" lengthAdjust="spacingAndGlyphs">TSG-6</text>
<line x1="79" y1="-3" x2="80" y2="0.5" stroke="#111" stroke-width="1.3"/>
<text x="0.5" y="17" font-weight="bold" font-size="13" textLength="28" lengthAdjust="spacingAndGlyphs">ILRA</text>
<line x1="31" y1="14" x2="32" y2="17.5" stroke="#111" stroke-width="1.3"/>
<text x="37.5" y="17" font-weight="bold" font-size="13" textLength="19" lengthAdjust="spacingAndGlyphs">IL6</text>
<line x1="59" y1="14" x2="60" y2="17.5" stroke="#111" stroke-width="1.3"/>
<text x="1" y="33" font-weight="bold" font-size="13" textLength="21.5" lengthAdjust="spacingAndGlyphs">IDO</text>
</g>
<g transform="translate(416,222) rotate(-33.7)"><text x="0" y="0" font-family="Liberation Serif" font-size="14.5" fill="#111" stroke="#111" stroke-width="0.25" textLength="92" lengthAdjust="spacingAndGlyphs">TGF-β1/Smads</text></g>
</svg></body></html>
